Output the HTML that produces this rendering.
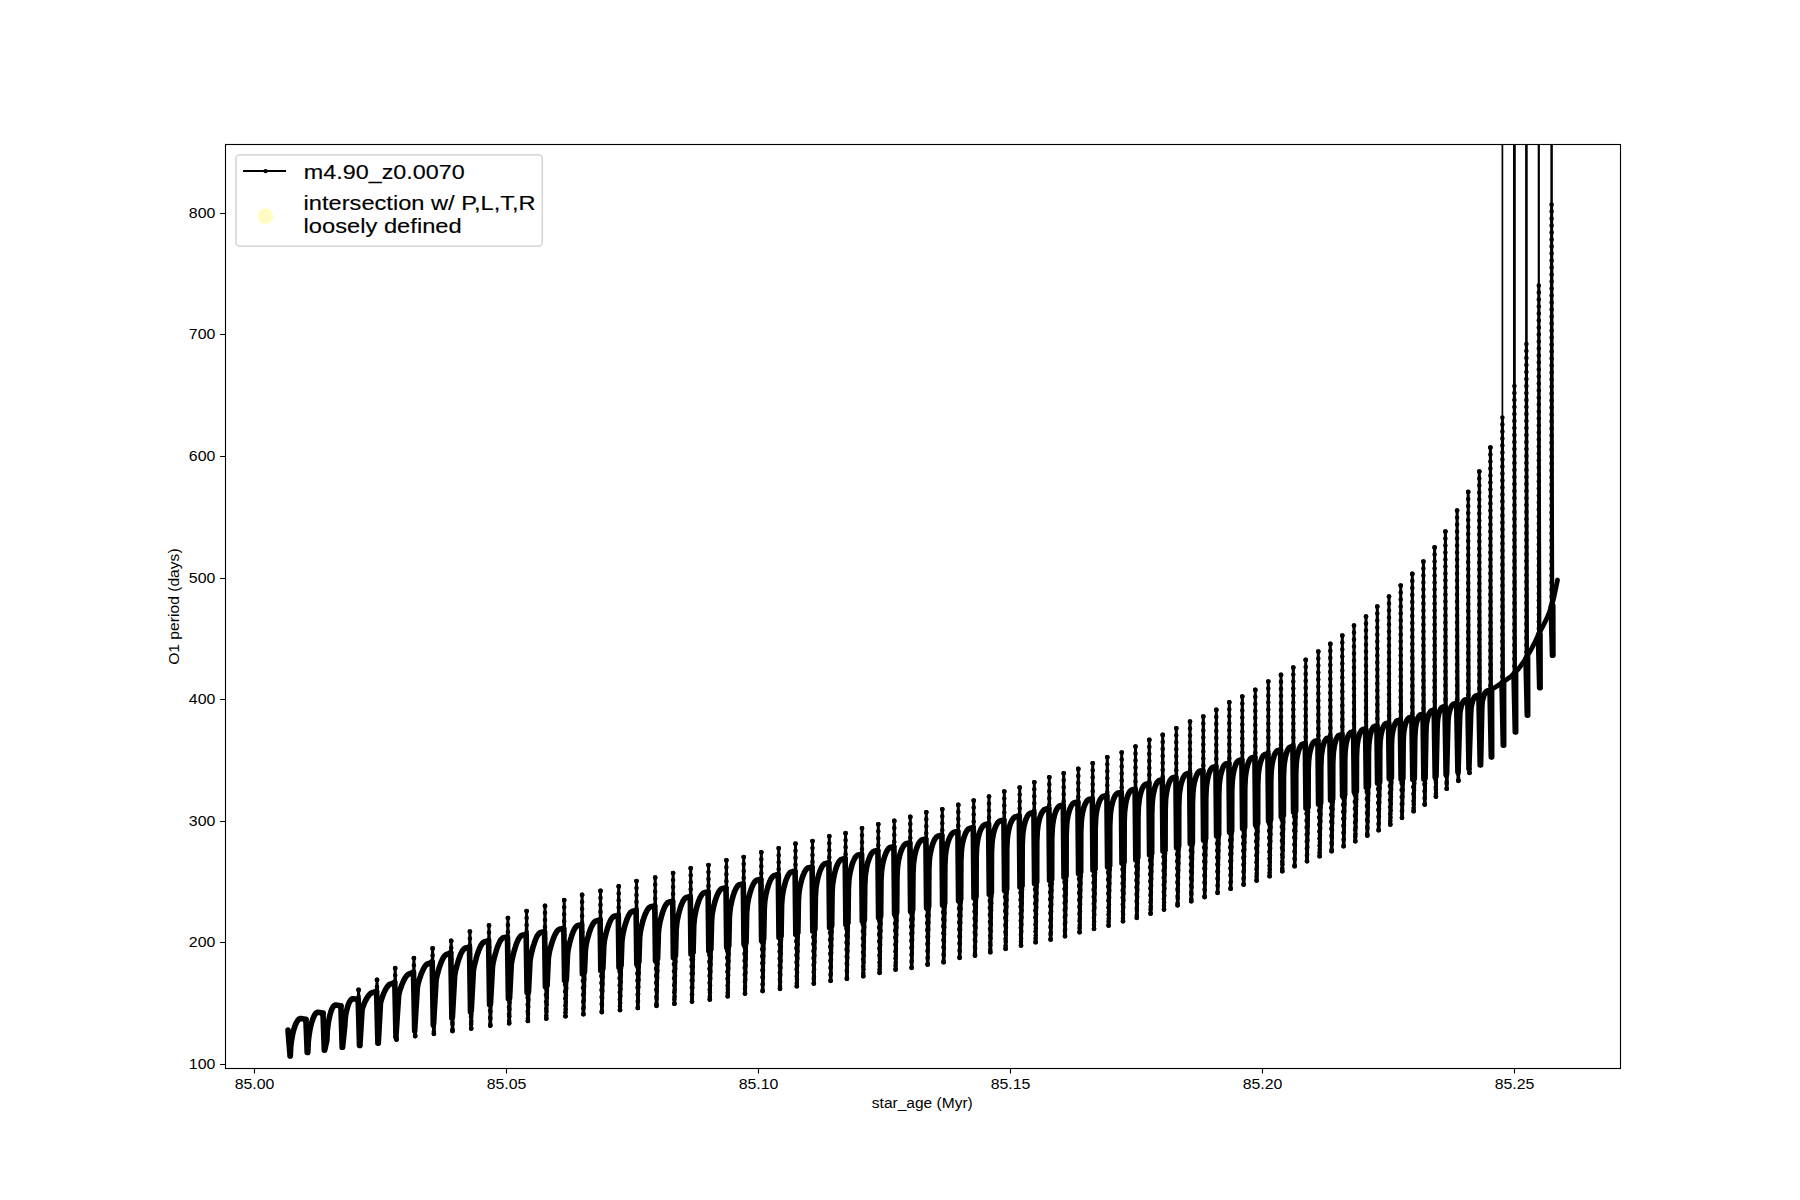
<!DOCTYPE html>
<html><head><meta charset="utf-8"><style>
html,body{margin:0;padding:0;background:#fff;width:1800px;height:1200px;overflow:hidden}
svg{display:block}
text{font-family:"Liberation Sans",sans-serif;fill:#000}
.tk{font-size:13.89px}
.lab{font-size:13.89px}
.lg{font-size:20.83px;stroke:#000;stroke-width:0.15px}
</style></head><body>
<svg width="1800" height="1200" viewBox="0 0 1800 1200">
<rect x="0" y="0" width="1800" height="1200" fill="#fff"/>
<defs><clipPath id="ax"><rect x="225" y="144" width="1396" height="925"/></clipPath></defs>
<g clip-path="url(#ax)" fill="none" stroke="#000" stroke-linejoin="round" stroke-linecap="round">
<path d="M288.0 1030.0 L290.1 1055.9 L289.3 1055.9 L290.3 1055.9 L290.3 1055.9 L290.8 1046.1 L291.3 1041.7 L291.9 1038.4 L292.4 1035.6 L292.9 1033.2 L293.4 1031.1 L293.9 1029.2 L294.5 1027.5 L295.0 1026.0 L295.5 1024.6 L296.0 1023.4 L296.5 1022.4 L297.1 1021.5 L297.6 1020.7 L298.1 1020.0 L298.6 1019.5 L299.1 1019.0 L299.7 1018.7 L300.2 1018.6 L300.7 1018.5 L304.3 1019.1 L305.7 1021.3 L306.0 1018.8 L306.3 1019.8 L307.6 1052.4 L306.8 1052.4 L307.8 1052.4 L307.8 1052.4 L308.3 1041.8 L308.8 1037.2 L309.3 1033.6 L309.8 1030.6 L310.3 1028.0 L310.8 1025.7 L311.3 1023.7 L311.9 1021.9 L312.4 1020.3 L312.9 1018.8 L313.4 1017.5 L313.9 1016.4 L314.4 1015.4 L314.9 1014.5 L315.4 1013.8 L315.9 1013.2 L316.4 1012.8 L316.9 1012.5 L317.4 1012.3 L317.9 1012.2 L321.4 1012.8 L322.8 1015.0 L323.1 1012.5 L323.4 1013.5 L324.7 1050.1 L323.9 1050.1 L326.9 1040.2 L326.9 1040.2 L327.3 1031.0 L327.8 1026.9 L328.2 1023.8 L328.6 1021.1 L329.1 1018.9 L329.5 1016.9 L329.9 1015.1 L330.4 1013.5 L330.8 1012.1 L331.2 1010.8 L331.7 1009.7 L332.1 1008.7 L332.5 1007.8 L333.0 1007.0 L333.4 1006.4 L333.8 1005.9 L334.3 1005.5 L334.7 1005.2 L335.1 1005.1 L335.6 1005.0 L339.3 1005.6 L340.7 1007.8 L341.0 1005.3 L341.3 1006.3 L342.6 1047.3 L341.8 1047.3 L344.8 1026.0 L344.8 1026.0 L345.2 1018.9 L345.6 1015.7 L346.0 1013.3 L346.5 1011.2 L346.9 1009.5 L347.3 1007.9 L347.7 1006.5 L348.1 1005.3 L348.5 1004.2 L348.9 1003.2 L349.3 1002.3 L349.8 1001.5 L350.2 1000.9 L350.6 1000.3 L351.0 999.8 L351.4 999.4 L351.8 999.1 L352.2 998.9 L352.7 998.7 L353.1 998.7 L356.6 999.3 L358.0 1001.5 L358.3 999.0 L358.6 989.9 L359.9 1045.5 L359.1 1045.5 L362.1 1009.6 L362.1 1009.6 L362.7 1007.6 L363.2 1006.1 L363.8 1004.6 L364.3 1003.3 L364.9 1002.0 L365.5 1000.8 L366.0 999.7 L366.6 998.7 L367.1 997.7 L367.7 996.8 L368.3 996.0 L368.8 995.3 L369.4 994.6 L370.0 994.1 L370.5 993.6 L371.1 993.2 L371.6 992.9 L372.2 992.6 L372.8 992.5 L373.3 992.5 L376.5 991.1 L376.7 991.1 L377.0 979.9 L378.3 1043.1 L377.5 1043.1 L380.5 1003.0 L380.5 1003.0 L381.1 1000.8 L381.6 999.0 L382.2 997.4 L382.7 995.9 L383.3 994.5 L383.8 993.2 L384.4 991.9 L384.9 990.8 L385.5 989.7 L386.0 988.7 L386.6 987.8 L387.1 987.0 L387.7 986.2 L388.2 985.6 L388.8 985.1 L389.3 984.6 L389.9 984.3 L390.5 984.0 L391.0 983.9 L391.6 983.8 L394.7 982.3 L394.9 982.3 L395.2 968.2 L396.5 1039.6 L395.9 1036.8 L398.7 995.0 L398.7 995.0 L399.3 992.5 L399.8 990.6 L400.4 988.8 L401.0 987.2 L401.6 985.6 L402.1 984.1 L402.7 982.8 L403.3 981.5 L403.9 980.3 L404.4 979.2 L405.0 978.2 L405.6 977.3 L406.1 976.5 L406.7 975.8 L407.3 975.2 L407.9 974.7 L408.4 974.3 L409.0 974.0 L409.6 973.8 L410.2 973.8 L413.4 972.0 L413.6 972.0 L413.9 958.2 L415.2 1036.1 L414.7 1030.0 L417.4 987.1 L417.4 987.1 L418.0 984.4 L418.5 982.2 L419.1 980.2 L419.7 978.4 L420.3 976.7 L420.8 975.1 L421.4 973.5 L422.0 972.1 L422.6 970.8 L423.1 969.6 L423.7 968.4 L424.3 967.4 L424.8 966.5 L425.4 965.8 L426.0 965.1 L426.6 964.5 L427.1 964.1 L427.7 963.8 L428.3 963.6 L428.9 963.6 L432.1 961.8 L432.3 961.8 L432.6 948.4 L433.9 1033.8 L433.6 1023.8 L436.1 980.2 L436.1 980.2 L436.7 977.2 L437.2 974.8 L437.8 972.7 L438.4 970.6 L438.9 968.7 L439.5 966.9 L440.1 965.2 L440.7 963.6 L441.2 962.2 L441.8 960.8 L442.4 959.6 L442.9 958.5 L443.5 957.5 L444.1 956.6 L444.6 955.9 L445.2 955.3 L445.8 954.8 L446.3 954.5 L446.9 954.3 L447.5 954.2 L450.7 952.6 L450.9 952.6 L451.2 940.9 L452.5 1031.0 L452.4 1017.2 L454.7 975.5 L454.7 975.5 L455.3 972.3 L455.8 969.8 L456.4 967.5 L457.0 965.3 L457.6 963.3 L458.1 961.4 L458.7 959.6 L459.3 957.9 L459.9 956.4 L460.4 954.9 L461.0 953.6 L461.6 952.4 L462.1 951.4 L462.7 950.5 L463.3 949.7 L463.9 949.0 L464.4 948.5 L465.0 948.2 L465.6 948.0 L466.2 947.9 L469.4 946.9 L469.6 946.9 L469.9 931.6 L471.2 1028.6 L471.3 1010.6 L473.4 970.5 L473.4 970.5 L474.0 967.2 L474.6 964.6 L475.2 962.1 L475.8 959.9 L476.3 957.8 L476.9 955.8 L477.5 953.9 L478.1 952.2 L478.7 950.5 L479.3 949.1 L479.9 947.7 L480.5 946.4 L481.1 945.3 L481.6 944.4 L482.2 943.6 L482.8 942.9 L483.4 942.4 L484.0 942.0 L484.6 941.8 L485.2 941.7 L488.5 940.6 L488.7 940.6 L489.0 925.5 L490.3 1025.6 L490.5 1003.9 L492.5 966.9 L492.5 966.9 L493.0 963.3 L493.6 960.6 L494.2 958.1 L494.8 955.9 L495.4 953.7 L496.0 951.7 L496.5 949.8 L497.1 948.1 L497.7 946.5 L498.3 945.0 L498.9 943.6 L499.5 942.4 L500.0 941.3 L500.6 940.3 L501.2 939.5 L501.8 938.8 L502.4 938.3 L503.0 937.9 L503.5 937.7 L504.1 937.6 L507.4 937.0 L507.6 937.0 L507.9 918.1 L509.2 1023.3 L509.6 997.9 L511.3 964.2 L511.3 964.2 L511.9 960.5 L512.5 957.7 L513.1 955.3 L513.6 953.0 L514.2 950.9 L514.8 948.9 L515.4 947.0 L515.9 945.3 L516.5 943.7 L517.1 942.2 L517.7 940.9 L518.2 939.7 L518.8 938.6 L519.4 937.7 L520.0 936.9 L520.6 936.2 L521.1 935.7 L521.7 935.3 L522.3 935.1 L522.9 935.0 L526.1 934.6 L526.3 934.6 L526.6 911.1 L527.9 1020.9 L528.5 991.7 L530.0 961.3 L530.0 961.3 L530.6 957.4 L531.1 954.6 L531.7 952.2 L532.3 949.9 L532.8 947.8 L533.4 945.9 L534.0 944.1 L534.5 942.4 L535.1 940.8 L535.7 939.3 L536.2 938.0 L536.8 936.8 L537.4 935.8 L537.9 934.9 L538.5 934.1 L539.1 933.4 L539.6 932.9 L540.2 932.6 L540.8 932.4 L541.3 932.3 L544.5 931.8 L544.7 931.8 L545.0 905.9 L546.3 1018.6 L547.1 985.4 L548.4 958.1 L548.4 958.1 L549.0 954.0 L549.6 951.2 L550.2 948.7 L550.8 946.5 L551.4 944.4 L552.0 942.5 L552.6 940.7 L553.2 939.0 L553.8 937.4 L554.4 936.0 L555.0 934.7 L555.6 933.5 L556.2 932.5 L556.8 931.6 L557.4 930.8 L558.0 930.2 L558.6 929.7 L559.2 929.4 L559.8 929.1 L560.4 929.1 L563.7 928.5 L563.9 928.5 L564.2 900.2 L565.5 1016.3 L566.4 978.8 L567.5 954.5 L567.5 954.5 L568.1 950.2 L568.6 947.3 L569.2 944.9 L569.7 942.6 L570.3 940.5 L570.8 938.6 L571.4 936.8 L571.9 935.1 L572.5 933.6 L573.0 932.2 L573.6 930.9 L574.1 929.8 L574.7 928.7 L575.2 927.8 L575.8 927.1 L576.3 926.5 L576.9 926.0 L577.4 925.6 L578.0 925.4 L578.5 925.4 L581.6 924.7 L581.8 924.7 L582.1 894.9 L583.4 1014.2 L584.5 971.8 L585.4 950.3 L585.4 950.3 L586.0 945.8 L586.5 942.9 L587.1 940.3 L587.7 938.1 L588.3 936.0 L588.8 934.0 L589.4 932.2 L590.0 930.6 L590.5 929.0 L591.1 927.6 L591.7 926.3 L592.3 925.2 L592.8 924.2 L593.4 923.3 L594.0 922.5 L594.5 921.9 L595.1 921.4 L595.7 921.1 L596.2 920.9 L596.8 920.8 L600.0 920.0 L600.2 920.0 L600.5 890.9 L601.8 1012.1 L602.9 968.5 L603.8 946.1 L603.8 946.1 L604.3 941.3 L604.9 938.3 L605.5 935.8 L606.0 933.4 L606.6 931.3 L607.2 929.3 L607.7 927.5 L608.3 925.9 L608.8 924.3 L609.4 922.9 L610.0 921.6 L610.5 920.5 L611.1 919.4 L611.7 918.5 L612.2 917.8 L612.8 917.2 L613.4 916.7 L613.9 916.3 L614.5 916.1 L615.1 916.1 L618.2 915.2 L618.4 915.2 L618.7 886.4 L620.0 1010.0 L621.1 965.2 L621.9 942.0 L621.9 942.0 L622.5 936.8 L623.0 933.8 L623.6 931.1 L624.1 928.8 L624.7 926.6 L625.2 924.7 L625.8 922.8 L626.3 921.1 L626.9 919.6 L627.4 918.2 L628.0 916.9 L628.5 915.7 L629.1 914.7 L629.6 913.8 L630.2 913.1 L630.7 912.4 L631.3 912.0 L631.8 911.6 L632.4 911.4 L632.9 911.3 L636.0 910.5 L636.2 910.5 L636.5 881.1 L637.8 1007.9 L638.9 962.0 L639.7 937.8 L639.7 937.8 L640.3 932.3 L640.9 929.2 L641.5 926.5 L642.1 924.1 L642.6 921.9 L643.2 919.9 L643.8 918.1 L644.4 916.4 L645.0 914.9 L645.6 913.4 L646.2 912.1 L646.8 911.0 L647.3 910.0 L647.9 909.1 L648.5 908.3 L649.1 907.7 L649.7 907.2 L650.3 906.9 L650.9 906.7 L651.5 906.6 L654.7 905.8 L654.9 905.8 L655.2 877.6 L656.5 1005.8 L657.6 958.7 L658.4 933.6 L658.4 933.6 L658.9 927.9 L659.5 924.7 L660.0 921.9 L660.6 919.5 L661.2 917.3 L661.7 915.3 L662.3 913.5 L662.8 911.8 L663.4 910.2 L663.9 908.8 L664.5 907.5 L665.1 906.3 L665.6 905.3 L666.2 904.4 L666.7 903.7 L667.3 903.1 L667.8 902.6 L668.4 902.3 L669.0 902.1 L669.5 902.0 L672.6 901.2 L672.8 901.2 L673.1 873.1 L674.4 1003.7 L675.5 955.5 L676.2 929.4 L676.2 929.4 L676.8 923.4 L677.3 920.1 L677.9 917.3 L678.4 914.9 L679.0 912.6 L679.5 910.6 L680.1 908.8 L680.6 907.1 L681.2 905.5 L681.7 904.1 L682.3 902.8 L682.8 901.6 L683.3 900.6 L683.9 899.7 L684.4 899.0 L685.0 898.4 L685.5 897.9 L686.1 897.6 L686.6 897.4 L687.2 897.3 L690.2 896.5 L690.4 896.5 L690.7 868.3 L692.0 1001.6 L693.1 952.2 L693.8 925.2 L693.8 925.2 L694.4 918.9 L694.9 915.5 L695.5 912.6 L696.0 910.2 L696.6 907.9 L697.1 905.9 L697.7 904.0 L698.3 902.3 L698.8 900.8 L699.4 899.3 L699.9 898.1 L700.5 896.9 L701.0 895.9 L701.6 895.0 L702.2 894.3 L702.7 893.7 L703.3 893.2 L703.8 892.9 L704.4 892.7 L704.9 892.6 L708.0 891.8 L708.2 891.8 L708.5 865.1 L709.8 999.5 L710.9 949.2 L711.6 921.4 L711.6 921.4 L712.1 914.8 L712.7 911.3 L713.3 908.5 L713.8 906.0 L714.4 903.7 L714.9 901.7 L715.5 899.8 L716.1 898.1 L716.6 896.6 L717.2 895.2 L717.8 893.9 L718.3 892.8 L718.9 891.8 L719.4 890.9 L720.0 890.2 L720.6 889.6 L721.1 889.1 L721.7 888.8 L722.3 888.6 L722.8 888.5 L725.9 887.8 L726.1 887.8 L726.4 860.3 L727.7 996.3 L728.8 945.7 L729.4 917.3 L729.4 917.3 L730.0 910.5 L730.5 907.0 L731.1 904.2 L731.6 901.7 L732.1 899.4 L732.7 897.4 L733.2 895.6 L733.8 893.9 L734.3 892.4 L734.8 891.0 L735.4 889.8 L735.9 888.7 L736.5 887.7 L737.0 886.8 L737.5 886.1 L738.1 885.5 L738.6 885.1 L739.2 884.7 L739.7 884.5 L740.2 884.5 L743.2 883.8 L743.4 883.8 L743.7 857.1 L745.0 993.6 L746.1 942.1 L746.7 912.9 L746.7 912.9 L747.3 905.9 L747.8 902.4 L748.4 899.5 L748.9 897.0 L749.5 894.8 L750.0 892.8 L750.6 890.9 L751.1 889.3 L751.7 887.8 L752.2 886.4 L752.8 885.2 L753.3 884.1 L753.9 883.1 L754.5 882.3 L755.0 881.6 L755.6 881.0 L756.1 880.6 L756.7 880.2 L757.2 880.1 L757.8 880.0 L760.8 879.2 L761.0 879.2 L761.3 852.3 L762.6 991.0 L763.7 938.6 L764.3 908.5 L764.3 908.5 L764.8 901.2 L765.4 897.6 L765.9 894.7 L766.5 892.2 L767.0 890.0 L767.6 887.9 L768.1 886.1 L768.6 884.5 L769.2 883.0 L769.7 881.6 L770.3 880.4 L770.8 879.3 L771.4 878.4 L771.9 877.6 L772.5 876.9 L773.0 876.3 L773.6 875.9 L774.1 875.6 L774.7 875.4 L775.2 875.3 L778.2 874.5 L778.4 874.5 L778.7 848.3 L780.0 988.8 L781.1 935.9 L781.6 905.2 L781.6 905.2 L782.2 897.6 L782.7 893.9 L783.2 891.0 L783.7 888.5 L784.3 886.3 L784.8 884.3 L785.3 882.5 L785.8 880.8 L786.4 879.3 L786.9 878.0 L787.4 876.8 L787.9 875.7 L788.5 874.8 L789.0 874.0 L789.5 873.3 L790.0 872.7 L790.6 872.3 L791.1 872.0 L791.6 871.8 L792.1 871.8 L795.0 871.2 L795.2 871.2 L795.5 843.7 L796.8 986.2 L797.9 932.5 L798.4 901.1 L798.4 901.1 L798.9 893.3 L799.5 889.6 L800.0 886.6 L800.5 884.1 L801.1 881.9 L801.6 879.9 L802.1 878.2 L802.7 876.5 L803.2 875.1 L803.8 873.8 L804.3 872.6 L804.8 871.6 L805.4 870.6 L805.9 869.9 L806.4 869.2 L807.0 868.7 L807.5 868.2 L808.0 867.9 L808.6 867.7 L809.1 867.7 L812.0 867.0 L812.2 867.0 L812.5 841.1 L813.8 983.5 L814.9 929.2 L815.4 896.9 L815.4 896.9 L815.9 888.9 L816.4 885.1 L817.0 882.2 L817.5 879.7 L818.0 877.5 L818.5 875.5 L819.1 873.7 L819.6 872.2 L820.1 870.7 L820.7 869.4 L821.2 868.3 L821.7 867.2 L822.2 866.3 L822.8 865.6 L823.3 864.9 L823.8 864.4 L824.4 864.0 L824.9 863.7 L825.4 863.5 L825.9 863.5 L828.8 862.7 L829.0 862.7 L829.3 836.3 L830.6 980.8 L831.7 925.8 L832.1 892.7 L832.1 892.7 L832.6 884.5 L833.2 880.7 L833.7 877.7 L834.2 875.2 L834.7 873.0 L835.2 871.1 L835.7 869.3 L836.2 867.7 L836.7 866.3 L837.2 865.1 L837.7 863.9 L838.3 862.9 L838.8 862.0 L839.3 861.3 L839.8 860.7 L840.3 860.1 L840.8 859.7 L841.3 859.4 L841.8 859.3 L842.3 859.2 L845.1 858.5 L845.3 858.5 L845.6 833.2 L846.9 978.7 L848.0 922.7 L848.4 888.7 L848.4 888.7 L848.9 880.1 L849.4 876.3 L849.9 873.3 L850.5 870.8 L851.0 868.6 L851.5 866.6 L852.0 864.9 L852.5 863.3 L853.0 861.9 L853.6 860.7 L854.1 859.6 L854.6 858.6 L855.1 857.7 L855.6 857.0 L856.1 856.3 L856.7 855.8 L857.2 855.4 L857.7 855.2 L858.2 855.0 L858.7 854.9 L861.5 854.2 L861.7 854.2 L862.0 828.3 L863.3 976.2 L864.4 919.6 L864.8 884.9 L864.8 884.9 L865.3 876.1 L865.8 872.2 L866.3 869.2 L866.8 866.7 L867.3 864.5 L867.8 862.5 L868.4 860.8 L868.9 859.3 L869.4 857.9 L869.9 856.7 L870.4 855.6 L870.9 854.6 L871.4 853.8 L872.0 853.0 L872.5 852.4 L873.0 851.9 L873.5 851.5 L874.0 851.3 L874.5 851.1 L875.0 851.0 L877.8 850.4 L878.0 850.4 L878.3 824.3 L879.6 972.8 L880.7 916.0 L881.0 880.8 L881.0 880.8 L881.5 871.9 L882.0 868.0 L882.5 865.0 L883.0 862.5 L883.5 860.3 L884.1 858.4 L884.6 856.7 L885.1 855.2 L885.6 853.9 L886.1 852.7 L886.6 851.6 L887.1 850.7 L887.6 849.9 L888.1 849.2 L888.6 848.6 L889.1 848.1 L889.6 847.7 L890.1 847.5 L890.6 847.3 L891.1 847.2 L893.8 846.6 L894.0 846.6 L894.3 820.9 L895.6 969.5 L896.7 912.5 L897.0 876.8 L897.0 876.8 L897.5 867.7 L898.0 863.8 L898.5 860.8 L899.0 858.3 L899.5 856.2 L900.0 854.3 L900.5 852.7 L901.0 851.2 L901.5 849.9 L902.0 848.7 L902.6 847.7 L903.1 846.8 L903.6 846.0 L904.1 845.3 L904.6 844.7 L905.1 844.3 L905.6 843.9 L906.1 843.6 L906.6 843.5 L907.1 843.4 L909.8 842.8 L910.0 842.8 L910.3 816.9 L911.6 967.8 L912.7 909.8 L913.0 873.1 L913.0 873.1 L913.5 863.8 L914.0 859.8 L914.5 856.8 L915.0 854.3 L915.5 852.2 L916.0 850.3 L916.5 848.7 L917.0 847.3 L917.5 846.0 L918.0 844.8 L918.5 843.8 L919.0 842.9 L919.6 842.1 L920.1 841.4 L920.6 840.9 L921.1 840.4 L921.6 840.1 L922.1 839.8 L922.6 839.7 L923.1 839.6 L925.8 839.0 L926.0 839.0 L926.3 812.3 L927.6 964.5 L928.7 906.3 L928.9 869.1 L928.9 869.1 L929.4 859.6 L929.9 855.6 L930.5 852.6 L931.0 850.2 L931.5 848.1 L932.0 846.2 L932.5 844.6 L933.0 843.2 L933.5 842.0 L934.0 840.8 L934.5 839.8 L935.0 839.0 L935.5 838.2 L936.0 837.6 L936.6 837.0 L937.1 836.6 L937.6 836.3 L938.1 836.0 L938.6 835.9 L939.1 835.8 L941.8 835.2 L942.0 835.2 L942.3 809.3 L943.6 962.2 L944.7 903.3 L944.9 865.3 L944.9 865.3 L945.4 855.6 L945.9 851.6 L946.4 848.6 L946.9 846.1 L947.4 844.0 L948.0 842.2 L948.5 840.6 L949.0 839.2 L949.5 838.0 L950.0 836.9 L950.5 835.9 L951.0 835.1 L951.5 834.4 L952.0 833.7 L952.5 833.2 L953.1 832.8 L953.6 832.5 L954.1 832.2 L954.6 832.1 L955.1 832.0 L957.8 831.4 L958.0 831.4 L958.3 804.9 L959.6 957.8 L960.7 899.2 L960.9 860.9 L960.9 860.9 L961.4 851.2 L961.8 847.2 L962.3 844.2 L962.8 841.8 L963.3 839.8 L963.8 838.0 L964.3 836.5 L964.8 835.1 L965.3 833.9 L965.7 832.9 L966.2 832.0 L966.7 831.1 L967.2 830.4 L967.7 829.8 L968.2 829.3 L968.7 828.9 L969.2 828.6 L969.6 828.4 L970.1 828.3 L970.6 828.2 L973.2 827.6 L973.4 827.6 L973.7 800.6 L975.0 955.5 L976.1 896.2 L976.2 857.1 L976.2 857.1 L976.7 847.1 L977.2 843.1 L977.7 840.2 L978.2 837.8 L978.7 835.7 L979.1 834.0 L979.6 832.5 L980.1 831.2 L980.6 830.0 L981.1 828.9 L981.6 828.0 L982.1 827.3 L982.5 826.6 L983.0 826.0 L983.5 825.5 L984.0 825.1 L984.5 824.8 L985.0 824.6 L985.5 824.5 L985.9 824.4 L988.5 823.8 L988.7 823.8 L989.0 796.6 L990.3 952.2 L991.4 892.7 L991.5 853.0 L991.5 853.0 L992.0 842.9 L992.5 838.9 L993.0 836.0 L993.4 833.6 L993.9 831.6 L994.4 829.9 L994.9 828.4 L995.4 827.1 L995.9 826.0 L996.4 825.0 L996.9 824.1 L997.3 823.3 L997.8 822.7 L998.3 822.1 L998.8 821.7 L999.3 821.3 L999.8 821.0 L1000.3 820.8 L1000.8 820.7 L1001.2 820.6 L1003.8 820.0 L1004.0 820.0 L1004.3 791.6 L1005.6 948.8 L1006.7 888.9 L1006.8 849.0 L1006.8 849.0 L1007.3 838.9 L1007.8 834.9 L1008.3 831.9 L1008.8 829.5 L1009.3 827.5 L1009.7 825.8 L1010.2 824.3 L1010.7 823.0 L1011.2 821.9 L1011.7 820.9 L1012.2 820.0 L1012.7 819.2 L1013.2 818.6 L1013.7 818.0 L1014.2 817.5 L1014.7 817.2 L1015.1 816.9 L1015.6 816.7 L1016.1 816.5 L1016.6 816.5 L1019.2 815.8 L1019.4 815.8 L1019.7 787.6 L1021.0 945.5 L1022.1 885.6 L1022.2 845.8 L1022.2 845.8 L1022.7 835.5 L1023.1 831.5 L1023.6 828.5 L1024.0 826.1 L1024.5 824.1 L1025.0 822.4 L1025.4 820.9 L1025.9 819.6 L1026.3 818.4 L1026.8 817.4 L1027.2 816.5 L1027.7 815.8 L1028.2 815.1 L1028.6 814.6 L1029.1 814.1 L1029.5 813.7 L1030.0 813.4 L1030.5 813.2 L1030.9 813.1 L1031.4 813.0 L1033.8 812.5 L1034.0 812.5 L1034.3 782.3 L1035.6 942.2 L1036.7 881.9 L1036.8 841.8 L1036.8 841.8 L1037.3 831.5 L1037.8 827.5 L1038.2 824.5 L1038.7 822.1 L1039.2 820.1 L1039.6 818.4 L1040.1 816.9 L1040.6 815.6 L1041.1 814.4 L1041.5 813.4 L1042.0 812.5 L1042.5 811.7 L1043.0 811.1 L1043.5 810.5 L1043.9 810.0 L1044.4 809.7 L1044.9 809.4 L1045.3 809.2 L1045.8 809.0 L1046.3 809.0 L1048.8 808.3 L1049.0 808.3 L1049.3 777.3 L1050.6 939.5 L1051.7 879.0 L1051.8 838.7 L1051.8 838.7 L1052.3 828.4 L1052.7 824.3 L1053.2 821.3 L1053.6 818.9 L1054.1 816.8 L1054.5 815.1 L1055.0 813.6 L1055.4 812.3 L1055.9 811.1 L1056.3 810.1 L1056.8 809.2 L1057.2 808.4 L1057.7 807.7 L1058.1 807.2 L1058.6 806.7 L1059.0 806.3 L1059.5 806.0 L1059.9 805.8 L1060.4 805.7 L1060.8 805.6 L1063.2 805.1 L1063.4 805.1 L1063.7 773.3 L1065.0 936.2 L1066.1 875.8 L1066.2 835.5 L1066.2 835.5 L1066.7 825.2 L1067.1 821.1 L1067.6 818.1 L1068.0 815.7 L1068.5 813.6 L1069.0 811.9 L1069.4 810.4 L1069.9 809.1 L1070.3 807.9 L1070.8 806.9 L1071.2 806.0 L1071.7 805.2 L1072.2 804.6 L1072.6 804.0 L1073.1 803.5 L1073.5 803.1 L1074.0 802.8 L1074.5 802.6 L1074.9 802.5 L1075.4 802.5 L1077.8 801.9 L1078.0 801.9 L1078.3 768.9 L1079.6 932.2 L1080.7 872.1 L1080.8 832.1 L1080.8 832.1 L1081.3 821.9 L1081.7 817.8 L1082.2 814.8 L1082.6 812.4 L1083.1 810.4 L1083.5 808.7 L1084.0 807.2 L1084.4 805.8 L1084.9 804.7 L1085.3 803.7 L1085.8 802.8 L1086.2 802.0 L1086.7 801.4 L1087.1 800.8 L1087.6 800.3 L1088.0 799.9 L1088.5 799.6 L1088.9 799.4 L1089.4 799.3 L1089.8 799.3 L1092.2 798.8 L1092.4 798.8 L1092.7 763.3 L1094.0 928.8 L1095.1 868.8 L1095.2 828.9 L1095.2 828.9 L1095.7 818.6 L1096.1 814.6 L1096.6 811.6 L1097.0 809.2 L1097.5 807.2 L1098.0 805.5 L1098.4 804.0 L1098.9 802.7 L1099.3 801.5 L1099.8 800.5 L1100.2 799.6 L1100.7 798.8 L1101.2 798.2 L1101.6 797.6 L1102.1 797.1 L1102.5 796.8 L1103.0 796.5 L1103.5 796.3 L1103.9 796.1 L1104.4 796.1 L1106.8 795.6 L1107.0 795.6 L1107.3 757.3 L1108.6 925.5 L1109.7 865.6 L1109.8 825.7 L1109.8 825.7 L1110.3 815.4 L1110.7 811.4 L1111.2 808.4 L1111.6 806.0 L1112.1 804.0 L1112.5 802.3 L1113.0 800.8 L1113.4 799.5 L1113.9 798.3 L1114.3 797.3 L1114.8 796.4 L1115.2 795.6 L1115.7 795.0 L1116.1 794.4 L1116.6 793.9 L1117.0 793.6 L1117.5 793.3 L1117.9 793.1 L1118.4 793.0 L1118.8 792.9 L1121.2 792.4 L1121.4 792.4 L1121.7 752.6 L1123.0 921.2 L1124.1 861.8 L1124.2 822.2 L1124.2 822.2 L1124.6 812.1 L1125.1 808.0 L1125.5 805.1 L1125.9 802.7 L1126.3 800.7 L1126.8 799.0 L1127.2 797.5 L1127.6 796.2 L1128.0 795.1 L1128.5 794.1 L1128.9 793.2 L1129.3 792.4 L1129.8 791.8 L1130.2 791.2 L1130.6 790.8 L1131.0 790.4 L1131.5 790.1 L1131.9 789.9 L1132.3 789.8 L1132.7 789.7 L1135.0 789.2 L1135.2 789.2 L1135.5 746.6 L1136.8 917.8 L1137.9 857.2 L1138.0 816.9 L1138.0 816.9 L1138.4 806.6 L1138.9 802.6 L1139.3 799.6 L1139.7 797.2 L1140.1 795.2 L1140.6 793.5 L1141.0 792.0 L1141.4 790.7 L1141.8 789.6 L1142.3 788.6 L1142.7 787.7 L1143.1 786.9 L1143.6 786.2 L1144.0 785.7 L1144.4 785.2 L1144.8 784.8 L1145.3 784.6 L1145.7 784.3 L1146.1 784.2 L1146.5 784.2 L1148.8 783.2 L1149.0 783.2 L1149.3 739.9 L1150.6 913.6 L1151.7 853.4 L1151.8 813.3 L1151.8 813.3 L1152.2 803.0 L1152.6 798.9 L1153.0 795.9 L1153.4 793.5 L1153.9 791.5 L1154.3 789.8 L1154.7 788.3 L1155.1 786.9 L1155.5 785.8 L1155.9 784.8 L1156.3 783.9 L1156.7 783.1 L1157.1 782.4 L1157.6 781.9 L1158.0 781.4 L1158.4 781.0 L1158.8 780.7 L1159.2 780.5 L1159.6 780.4 L1160.0 780.4 L1162.2 779.8 L1162.4 779.8 L1162.7 734.9 L1164.0 909.5 L1165.1 850.0 L1165.2 810.3 L1165.2 810.3 L1165.6 800.1 L1166.0 796.0 L1166.5 793.1 L1166.9 790.7 L1167.3 788.7 L1167.7 787.0 L1168.1 785.5 L1168.6 784.2 L1169.0 783.0 L1169.4 782.0 L1169.8 781.1 L1170.2 780.3 L1170.6 779.7 L1171.1 779.1 L1171.5 778.7 L1171.9 778.3 L1172.3 778.0 L1172.7 777.8 L1173.2 777.7 L1173.6 777.6 L1175.8 777.2 L1176.0 777.2 L1176.3 728.3 L1177.6 905.3 L1178.7 845.9 L1178.8 806.2 L1178.8 806.2 L1179.2 796.1 L1179.6 792.1 L1180.1 789.2 L1180.5 786.8 L1180.9 784.8 L1181.3 783.1 L1181.8 781.6 L1182.2 780.3 L1182.6 779.2 L1183.0 778.2 L1183.5 777.3 L1183.9 776.6 L1184.3 775.9 L1184.7 775.3 L1185.1 774.9 L1185.6 774.5 L1186.0 774.2 L1186.4 774.0 L1186.8 773.9 L1187.3 773.9 L1189.5 773.2 L1189.7 773.2 L1190.0 721.6 L1191.3 901.2 L1192.4 842.4 L1192.5 803.2 L1192.5 803.2 L1192.9 793.1 L1193.3 789.1 L1193.7 786.2 L1194.1 783.8 L1194.5 781.8 L1194.9 780.2 L1195.3 778.7 L1195.8 777.4 L1196.2 776.3 L1196.6 775.3 L1197.0 774.4 L1197.4 773.6 L1197.8 773.0 L1198.2 772.4 L1198.6 772.0 L1199.0 771.6 L1199.4 771.3 L1199.8 771.1 L1200.2 771.0 L1200.6 770.9 L1202.8 770.5 L1203.0 770.5 L1203.3 716.6 L1204.6 897.0 L1205.7 838.3 L1205.8 799.1 L1205.8 799.1 L1206.2 789.1 L1206.6 785.2 L1207.0 782.3 L1207.4 779.9 L1207.8 778.0 L1208.2 776.3 L1208.6 774.8 L1209.0 773.5 L1209.4 772.4 L1209.8 771.4 L1210.1 770.6 L1210.5 769.8 L1210.9 769.2 L1211.3 768.6 L1211.7 768.2 L1212.1 767.8 L1212.5 767.5 L1212.9 767.3 L1213.3 767.2 L1213.7 767.1 L1215.8 766.5 L1216.0 766.5 L1216.3 709.9 L1217.6 892.8 L1218.7 834.5 L1218.8 795.6 L1218.8 795.6 L1219.2 785.7 L1219.6 781.7 L1220.0 778.8 L1220.4 776.5 L1220.8 774.5 L1221.2 772.8 L1221.6 771.4 L1222.0 770.1 L1222.4 769.0 L1222.8 768.0 L1223.1 767.1 L1223.5 766.4 L1223.9 765.7 L1224.3 765.2 L1224.7 764.7 L1225.1 764.4 L1225.5 764.1 L1225.9 763.9 L1226.3 763.8 L1226.7 763.7 L1228.8 763.2 L1229.0 763.2 L1229.3 702.3 L1230.6 888.7 L1231.7 830.7 L1231.8 792.0 L1231.8 792.0 L1232.2 782.1 L1232.6 778.2 L1233.0 775.3 L1233.4 773.0 L1233.8 771.1 L1234.2 769.4 L1234.6 768.0 L1235.0 766.7 L1235.4 765.6 L1235.8 764.6 L1236.1 763.7 L1236.5 763.0 L1236.9 762.4 L1237.3 761.8 L1237.7 761.4 L1238.1 761.0 L1238.5 760.7 L1238.9 760.5 L1239.3 760.4 L1239.7 760.3 L1241.8 759.8 L1242.0 759.8 L1242.3 696.6 L1243.6 884.5 L1244.7 827.2 L1244.8 789.0 L1244.8 789.0 L1245.2 779.2 L1245.6 775.3 L1246.0 772.5 L1246.4 770.2 L1246.8 768.3 L1247.2 766.6 L1247.6 765.2 L1248.0 763.9 L1248.4 762.8 L1248.8 761.8 L1249.1 761.0 L1249.5 760.2 L1249.9 759.6 L1250.3 759.1 L1250.7 758.6 L1251.1 758.3 L1251.5 758.0 L1251.9 757.8 L1252.3 757.7 L1252.7 757.6 L1254.8 757.2 L1255.0 757.2 L1255.3 689.9 L1256.6 880.4 L1257.7 823.4 L1257.8 785.4 L1257.8 785.4 L1258.2 775.7 L1258.6 771.9 L1259.0 769.1 L1259.4 766.8 L1259.8 764.9 L1260.2 763.2 L1260.6 761.8 L1261.0 760.6 L1261.4 759.5 L1261.8 758.5 L1262.1 757.7 L1262.5 756.9 L1262.9 756.3 L1263.3 755.8 L1263.7 755.3 L1264.1 755.0 L1264.5 754.7 L1264.9 754.5 L1265.3 754.4 L1265.7 754.3 L1267.8 753.8 L1268.0 753.8 L1268.3 681.6 L1269.6 876.2 L1270.7 819.3 L1270.8 781.4 L1270.8 781.4 L1271.2 771.7 L1271.6 767.9 L1271.9 765.1 L1272.3 762.8 L1272.7 760.9 L1273.1 759.3 L1273.5 757.9 L1273.9 756.6 L1274.2 755.5 L1274.6 754.6 L1275.0 753.8 L1275.4 753.0 L1275.8 752.4 L1276.2 751.9 L1276.5 751.4 L1276.9 751.1 L1277.3 750.8 L1277.7 750.6 L1278.1 750.5 L1278.5 750.4 L1280.5 749.8 L1280.7 749.8 L1281.0 674.9 L1282.3 871.2 L1283.4 815.1 L1283.5 777.7 L1283.5 777.7 L1283.9 768.1 L1284.2 764.3 L1284.6 761.5 L1285.0 759.3 L1285.3 757.4 L1285.7 755.8 L1286.1 754.4 L1286.4 753.2 L1286.8 752.1 L1287.2 751.1 L1287.5 750.3 L1287.9 749.6 L1288.3 749.0 L1288.6 748.4 L1289.0 748.0 L1289.4 747.6 L1289.7 747.4 L1290.1 747.2 L1290.5 747.1 L1290.8 747.0 L1292.8 746.5 L1293.0 746.5 L1293.3 667.6 L1294.6 866.2 L1295.7 811.0 L1295.8 774.2 L1295.8 774.2 L1296.2 764.8 L1296.5 761.1 L1296.9 758.3 L1297.3 756.1 L1297.7 754.3 L1298.0 752.7 L1298.4 751.3 L1298.8 750.1 L1299.1 749.0 L1299.5 748.1 L1299.9 747.3 L1300.3 746.6 L1300.6 745.9 L1301.0 745.4 L1301.4 745.0 L1301.7 744.6 L1302.1 744.4 L1302.5 744.2 L1302.8 744.1 L1303.2 744.0 L1305.2 743.6 L1305.4 743.6 L1305.7 659.9 L1307.0 861.2 L1308.1 806.9 L1308.2 770.8 L1308.2 770.8 L1308.6 761.5 L1309.0 757.8 L1309.3 755.1 L1309.7 753.0 L1310.1 751.1 L1310.5 749.6 L1310.9 748.2 L1311.2 747.0 L1311.6 746.0 L1312.0 745.1 L1312.4 744.3 L1312.7 743.6 L1313.1 743.0 L1313.5 742.5 L1313.9 742.0 L1314.3 741.7 L1314.6 741.4 L1315.0 741.2 L1315.4 741.1 L1315.8 741.1 L1317.8 740.6 L1318.0 740.6 L1318.3 651.6 L1319.6 856.2 L1320.7 802.9 L1320.8 767.3 L1320.8 767.3 L1321.2 758.2 L1321.5 754.6 L1321.9 752.0 L1322.2 749.8 L1322.6 748.0 L1322.9 746.5 L1323.3 745.2 L1323.6 744.0 L1324.0 743.0 L1324.3 742.1 L1324.7 741.3 L1325.1 740.6 L1325.4 740.0 L1325.8 739.5 L1326.1 739.1 L1326.5 738.7 L1326.8 738.5 L1327.2 738.3 L1327.5 738.2 L1327.9 738.2 L1329.8 737.7 L1330.0 737.7 L1330.3 643.9 L1331.6 851.2 L1332.7 798.8 L1332.8 763.9 L1332.8 763.9 L1333.2 754.9 L1333.5 751.4 L1333.9 748.8 L1334.2 746.7 L1334.6 744.9 L1334.9 743.4 L1335.3 742.1 L1335.6 740.9 L1336.0 739.9 L1336.3 739.1 L1336.7 738.3 L1337.1 737.6 L1337.4 737.0 L1337.8 736.5 L1338.1 736.1 L1338.5 735.8 L1338.8 735.5 L1339.2 735.4 L1339.5 735.3 L1339.9 735.2 L1341.8 734.8 L1342.0 734.8 L1342.3 635.6 L1343.6 846.2 L1344.7 794.7 L1344.8 760.4 L1344.8 760.4 L1345.1 751.6 L1345.5 748.2 L1345.8 745.6 L1346.2 743.5 L1346.5 741.8 L1346.9 740.3 L1347.2 739.0 L1347.5 737.9 L1347.9 736.9 L1348.2 736.0 L1348.6 735.3 L1348.9 734.6 L1349.3 734.1 L1349.6 733.6 L1349.9 733.2 L1350.3 732.8 L1350.6 732.6 L1351.0 732.4 L1351.3 732.3 L1351.7 732.3 L1353.5 731.8 L1353.7 731.8 L1354.0 625.6 L1355.3 841.2 L1356.4 790.7 L1356.5 757.0 L1356.5 757.0 L1356.9 748.3 L1357.2 744.9 L1357.6 742.4 L1357.9 740.4 L1358.3 738.7 L1358.6 737.2 L1359.0 736.0 L1359.3 734.9 L1359.7 733.9 L1360.0 733.0 L1360.4 732.3 L1360.8 731.7 L1361.1 731.1 L1361.5 730.6 L1361.8 730.2 L1362.2 729.9 L1362.5 729.7 L1362.9 729.5 L1363.2 729.4 L1363.6 729.3 L1365.5 728.9 L1365.7 728.9 L1366.0 616.6 L1367.3 835.5 L1368.4 786.2 L1368.5 753.3 L1368.5 753.3 L1368.8 744.9 L1369.2 741.6 L1369.5 739.1 L1369.8 737.2 L1370.1 735.5 L1370.5 734.1 L1370.8 732.9 L1371.1 731.8 L1371.4 730.8 L1371.8 730.0 L1372.1 729.3 L1372.4 728.7 L1372.8 728.1 L1373.1 727.6 L1373.4 727.3 L1373.7 726.9 L1374.1 726.7 L1374.4 726.5 L1374.7 726.4 L1375.0 726.4 L1376.8 725.9 L1377.0 725.9 L1377.3 606.6 L1378.6 830.2 L1379.7 782.0 L1379.8 749.8 L1379.8 749.8 L1380.1 741.6 L1380.5 738.3 L1380.8 735.9 L1381.2 734.0 L1381.5 732.4 L1381.9 731.0 L1382.2 729.8 L1382.5 728.7 L1382.9 727.8 L1383.2 727.0 L1383.6 726.3 L1383.9 725.7 L1384.3 725.1 L1384.6 724.7 L1384.9 724.3 L1385.3 724.0 L1385.6 723.8 L1386.0 723.6 L1386.3 723.5 L1386.7 723.5 L1388.5 723.0 L1388.7 723.0 L1389.0 596.6 L1390.3 824.5 L1391.4 777.5 L1391.5 746.2 L1391.5 746.2 L1391.8 738.2 L1392.2 735.0 L1392.5 732.7 L1392.9 730.8 L1393.2 729.2 L1393.6 727.9 L1393.9 726.7 L1394.2 725.7 L1394.6 724.8 L1394.9 724.0 L1395.3 723.3 L1395.6 722.7 L1396.0 722.2 L1396.3 721.7 L1396.6 721.3 L1397.0 721.1 L1397.3 720.8 L1397.7 720.7 L1398.0 720.6 L1398.4 720.5 L1400.2 720.1 L1400.4 720.1 L1400.7 585.6 L1402.0 817.8 L1402.9 778.2 L1403.2 742.3 L1403.2 742.3 L1403.5 734.6 L1403.9 731.5 L1404.2 729.3 L1404.6 727.5 L1404.9 726.0 L1405.2 724.7 L1405.6 723.5 L1405.9 722.5 L1406.3 721.7 L1406.6 720.9 L1407.0 720.2 L1407.3 719.7 L1407.6 719.2 L1408.0 718.7 L1408.3 718.4 L1408.7 718.1 L1409.0 717.9 L1409.3 717.7 L1409.7 717.6 L1410.0 717.6 L1411.8 717.1 L1412.0 717.1 L1412.3 573.9 L1413.6 811.2 L1414.3 778.5 L1414.8 738.5 L1414.8 738.5 L1415.2 731.0 L1415.5 728.1 L1415.8 725.9 L1416.1 724.2 L1416.4 722.7 L1416.8 721.5 L1417.1 720.4 L1417.4 719.4 L1417.7 718.6 L1418.0 717.8 L1418.3 717.2 L1418.7 716.6 L1419.0 716.2 L1419.3 715.8 L1419.6 715.4 L1419.9 715.1 L1420.2 714.9 L1420.6 714.8 L1420.9 714.7 L1421.2 714.7 L1422.9 714.2 L1423.1 714.2 L1423.4 561.6 L1424.7 804.5 L1425.1 777.9 L1425.9 733.6 L1425.9 733.6 L1426.2 726.5 L1426.5 723.6 L1426.9 721.5 L1427.2 719.8 L1427.5 718.4 L1427.8 717.2 L1428.2 716.2 L1428.5 715.2 L1428.8 714.4 L1429.1 713.7 L1429.5 713.1 L1429.8 712.6 L1430.1 712.1 L1430.4 711.7 L1430.7 711.4 L1431.1 711.1 L1431.4 710.9 L1431.7 710.8 L1432.0 710.7 L1432.4 710.7 L1434.1 710.0 L1434.3 710.0 L1434.6 547.5 L1435.9 796.6 L1436.0 776.3 L1437.1 729.0 L1437.1 729.0 L1437.4 722.2 L1437.7 719.4 L1438.0 717.4 L1438.3 715.8 L1438.6 714.5 L1438.9 713.3 L1439.2 712.3 L1439.6 711.4 L1439.9 710.7 L1440.2 710.0 L1440.5 709.4 L1440.8 708.9 L1441.1 708.4 L1441.4 708.1 L1441.7 707.7 L1442.0 707.5 L1442.3 707.3 L1442.6 707.1 L1442.9 707.1 L1443.2 707.0 L1444.9 706.5 L1445.1 706.5 L1445.4 531.6 L1446.7 788.7 L1446.6 774.3 L1447.9 724.6 L1447.9 724.6 L1448.2 718.1 L1448.6 715.6 L1448.9 713.7 L1449.3 712.1 L1449.6 710.9 L1450.0 709.8 L1450.3 708.8 L1450.6 708.0 L1451.0 707.2 L1451.3 706.6 L1451.7 706.0 L1452.0 705.5 L1452.4 705.1 L1452.7 704.8 L1453.0 704.5 L1453.4 704.2 L1453.7 704.0 L1454.1 703.9 L1454.4 703.8 L1454.8 703.8 L1456.6 703.3 L1456.8 703.3 L1457.1 510.6 L1458.4 780.8 L1458.1 771.6 L1459.6 719.6 L1459.6 719.6 L1459.9 713.4 L1460.2 711.0 L1460.6 709.2 L1460.9 707.7 L1461.2 706.5 L1461.5 705.5 L1461.8 704.6 L1462.2 703.8 L1462.5 703.1 L1462.8 702.5 L1463.1 701.9 L1463.4 701.5 L1463.7 701.1 L1464.1 700.7 L1464.4 700.5 L1464.7 700.2 L1465.0 700.1 L1465.3 699.9 L1465.7 699.9 L1466.0 699.8 L1467.7 699.2 L1467.9 699.2 L1468.2 492.0 L1469.5 772.8 L1468.9 768.5 L1470.7 714.5 L1470.7 714.5 L1471.0 708.6 L1471.3 706.3 L1471.7 704.6 L1472.0 703.2 L1472.3 702.0 L1472.6 701.0 L1472.9 700.2 L1473.3 699.4 L1473.6 698.8 L1473.9 698.2 L1474.2 697.7 L1474.5 697.2 L1474.8 696.8 L1475.2 696.5 L1475.5 696.2 L1475.8 696.0 L1476.1 695.9 L1476.4 695.7 L1476.8 695.7 L1477.1 695.7 L1478.8 695.0 L1479.0 695.0 L1479.3 471.6 L1480.6 764.9 L1479.8 764.9 L1481.8 708.7 L1481.8 708.7 L1482.1 703.1 L1482.4 700.9 L1482.8 699.3 L1483.1 698.0 L1483.4 696.9 L1483.7 695.9 L1484.0 695.1 L1484.4 694.4 L1484.7 693.7 L1485.0 693.2 L1485.3 692.7 L1485.6 692.3 L1485.9 691.9 L1486.3 691.6 L1486.6 691.3 L1486.9 691.1 L1487.2 691.0 L1487.5 690.9 L1487.9 690.8 L1488.2 690.8 L1489.9 690.0 L1490.1 690.0 L1490.4 447.6 L1491.7 757.0 L1491.6 690.0 L1490.4 690.0 L1491.4 689.5 L1492.4 688.9 L1493.4 688.3 L1494.4 687.7 L1495.4 687.1 L1496.4 686.5 L1497.4 685.9 L1498.4 685.2 L1499.4 684.5 L1500.4 683.9 L1501.4 683.2 L1502.4 682.5 L1502.1 682.5 L1502.4 417.5 L1503.7 745.3 L1503.6 682.5 L1502.4 682.5 L1503.4 681.8 L1504.4 681.1 L1505.4 680.4 L1506.4 679.8 L1507.4 679.0 L1508.4 678.3 L1509.4 677.6 L1510.4 676.8 L1511.4 676.0 L1512.4 675.1 L1513.4 674.2 L1514.4 673.3 L1514.1 673.3 L1514.4 386.0 L1515.7 732.0 L1515.6 673.3 L1514.4 673.3 L1515.4 672.3 L1516.4 671.2 L1517.4 670.1 L1518.4 668.9 L1519.4 667.6 L1520.4 666.3 L1521.4 664.9 L1522.4 663.5 L1523.4 662.0 L1524.4 660.5 L1525.4 659.0 L1526.4 657.5 L1526.1 657.5 L1526.4 344.0 L1527.7 715.3 L1527.6 657.5 L1526.4 657.5 L1527.4 655.9 L1528.5 654.1 L1529.5 652.3 L1530.5 650.5 L1531.6 648.6 L1532.6 646.6 L1533.6 644.6 L1534.7 642.6 L1535.7 640.5 L1536.7 638.4 L1537.8 636.3 L1538.8 634.2 L1538.5 634.2 L1538.8 285.5 L1540.1 687.8 L1540.0 634.2 L1538.8 634.2 L1539.9 632.1 L1540.9 630.0 L1542.0 627.9 L1543.1 625.9 L1544.1 623.8 L1545.2 621.7 L1546.3 619.4 L1547.3 617.1 L1548.4 614.5 L1549.5 611.8 L1550.5 608.9 L1551.6 605.8 L1551.3 605.8 L1551.6 204.5 L1552.9 655.3 L1552.8 605.8 L1551.6 605.8 L1552.1 604.2 L1552.6 602.5 L1553.1 600.6 L1553.6 598.6 L1554.1 596.5 L1554.5 594.4 L1555.0 592.1 L1555.5 589.8 L1556.0 587.4 L1556.5 584.9 L1557.0 582.5 L1557.5 580.0" stroke-width="3.0"/>
<path d="M306.3 1018.8 L307.6 1052.4 M323.4 1012.5 L324.7 1050.1 M341.3 1005.3 L342.6 1047.3 M358.6 989.9 L358.6 999.0 M358.6 999.0 L359.9 1045.5 M377.0 979.9 L377.0 991.1 M377.0 991.1 L378.3 1043.1 M395.2 968.2 L395.2 982.3 M395.2 982.3 L396.5 1039.6 M396.5 1039.6 L395.9 1036.8 M413.9 958.2 L413.9 972.0 M413.9 972.0 L415.2 1036.1 M415.2 1036.1 L414.7 1030.0 M432.6 948.4 L432.6 961.8 M432.6 961.8 L433.9 1033.8 M433.9 1033.8 L433.6 1023.8 M451.2 940.9 L451.2 952.6 M451.2 952.6 L452.5 1031.0 M452.5 1031.0 L452.4 1017.2 M469.9 931.6 L469.9 946.9 M469.9 946.9 L471.2 1028.6 M471.2 1028.6 L471.3 1010.6 M489.0 925.5 L489.0 940.6 M489.0 940.6 L490.3 1025.6 M490.3 1025.6 L490.5 1003.9 M507.9 918.1 L507.9 937.0 M507.9 937.0 L509.2 1023.3 M509.2 1023.3 L509.6 997.9 M526.6 911.1 L526.6 934.6 M526.6 934.6 L527.9 1020.9 M527.9 1020.9 L528.5 991.7 M545.0 905.9 L545.0 931.8 M545.0 931.8 L546.3 1018.6 M546.3 1018.6 L547.1 985.4 M564.2 900.2 L564.2 928.5 M564.2 928.5 L565.5 1016.3 M565.5 1016.3 L566.4 978.8 M582.1 894.9 L582.1 924.7 M582.1 924.7 L583.4 1014.2 M583.4 1014.2 L584.5 971.8 M600.5 890.9 L600.5 920.0 M600.5 920.0 L601.8 1012.1 M601.8 1012.1 L602.9 968.5 M618.7 886.4 L618.7 915.2 M618.7 915.2 L620.0 1010.0 M620.0 1010.0 L621.1 965.2 M636.5 881.1 L636.5 910.5 M636.5 910.5 L637.8 1007.9 M637.8 1007.9 L638.9 962.0 M655.2 877.6 L655.2 905.8 M655.2 905.8 L656.5 1005.8 M656.5 1005.8 L657.6 958.7 M673.1 873.1 L673.1 901.2 M673.1 901.2 L674.4 1003.7 M674.4 1003.7 L675.5 955.5 M690.7 868.3 L690.7 896.5 M690.7 896.5 L692.0 1001.6 M692.0 1001.6 L693.1 952.2 M708.5 865.1 L708.5 891.8 M708.5 891.8 L709.8 999.5 M709.8 999.5 L710.9 949.2 M726.4 860.3 L726.4 887.8 M726.4 887.8 L727.7 996.3 M727.7 996.3 L728.8 945.7 M743.7 857.1 L743.7 883.8 M743.7 883.8 L745.0 993.6 M745.0 993.6 L746.1 942.1 M761.3 852.3 L761.3 879.2 M761.3 879.2 L762.6 991.0 M762.6 991.0 L763.7 938.6 M778.7 848.3 L778.7 874.5 M778.7 874.5 L780.0 988.8 M780.0 988.8 L781.1 935.9 M795.5 843.7 L795.5 871.2 M795.5 871.2 L796.8 986.2 M796.8 986.2 L797.9 932.5 M812.5 841.1 L812.5 867.0 M812.5 867.0 L813.8 983.5 M813.8 983.5 L814.9 929.2 M829.3 836.3 L829.3 862.7 M829.3 862.7 L830.6 980.8 M830.6 980.8 L831.7 925.8 M845.6 833.2 L845.6 858.5 M845.6 858.5 L846.9 978.7 M846.9 978.7 L848.0 922.7 M862.0 828.3 L862.0 854.2 M862.0 854.2 L863.3 976.2 M863.3 976.2 L864.4 919.6 M878.3 824.3 L878.3 850.4 M878.3 850.4 L879.6 972.8 M879.6 972.8 L880.7 916.0 M894.3 820.9 L894.3 846.6 M894.3 846.6 L895.6 969.5 M895.6 969.5 L896.7 912.5 M910.3 816.9 L910.3 842.8 M910.3 842.8 L911.6 967.8 M911.6 967.8 L912.7 909.8 M926.3 812.3 L926.3 839.0 M926.3 839.0 L927.6 964.5 M927.6 964.5 L928.7 906.3 M942.3 809.3 L942.3 835.2 M942.3 835.2 L943.6 962.2 M943.6 962.2 L944.7 903.3 M958.3 804.9 L958.3 831.4 M958.3 831.4 L959.6 957.8 M959.6 957.8 L960.7 899.2 M973.7 800.6 L973.7 827.6 M973.7 827.6 L975.0 955.5 M975.0 955.5 L976.1 896.2 M989.0 796.6 L989.0 823.8 M989.0 823.8 L990.3 952.2 M990.3 952.2 L991.4 892.7 M1004.3 791.6 L1004.3 820.0 M1004.3 820.0 L1005.6 948.8 M1005.6 948.8 L1006.7 888.9 M1019.7 787.6 L1019.7 815.8 M1019.7 815.8 L1021.0 945.5 M1021.0 945.5 L1022.1 885.6 M1034.3 782.3 L1034.3 812.5 M1034.3 812.5 L1035.6 942.2 M1035.6 942.2 L1036.7 881.9 M1049.3 777.3 L1049.3 808.3 M1049.3 808.3 L1050.6 939.5 M1050.6 939.5 L1051.7 879.0 M1063.7 773.3 L1063.7 805.1 M1063.7 805.1 L1065.0 936.2 M1065.0 936.2 L1066.1 875.8 M1078.3 768.9 L1078.3 801.9 M1078.3 801.9 L1079.6 932.2 M1079.6 932.2 L1080.7 872.1 M1092.7 763.3 L1092.7 798.8 M1092.7 798.8 L1094.0 928.8 M1094.0 928.8 L1095.1 868.8 M1107.3 757.3 L1107.3 795.6 M1107.3 795.6 L1108.6 925.5 M1108.6 925.5 L1109.7 865.6 M1121.7 752.6 L1121.7 792.4 M1121.7 792.4 L1123.0 921.2 M1123.0 921.2 L1124.1 861.8 M1135.5 746.6 L1135.5 789.2 M1135.5 789.2 L1136.8 917.8 M1136.8 917.8 L1137.9 857.2 M1149.3 739.9 L1149.3 783.2 M1149.3 783.2 L1150.6 913.6 M1150.6 913.6 L1151.7 853.4 M1162.7 734.9 L1162.7 779.8 M1162.7 779.8 L1164.0 909.5 M1164.0 909.5 L1165.1 850.0 M1176.3 728.3 L1176.3 777.2 M1176.3 777.2 L1177.6 905.3 M1177.6 905.3 L1178.7 845.9 M1190.0 721.6 L1190.0 773.2 M1190.0 773.2 L1191.3 901.2 M1191.3 901.2 L1192.4 842.4 M1203.3 716.6 L1203.3 770.5 M1203.3 770.5 L1204.6 897.0 M1204.6 897.0 L1205.7 838.3 M1216.3 709.9 L1216.3 766.5 M1216.3 766.5 L1217.6 892.8 M1217.6 892.8 L1218.7 834.5 M1229.3 702.3 L1229.3 763.2 M1229.3 763.2 L1230.6 888.7 M1230.6 888.7 L1231.7 830.7 M1242.3 696.6 L1242.3 759.8 M1242.3 759.8 L1243.6 884.5 M1243.6 884.5 L1244.7 827.2 M1255.3 689.9 L1255.3 757.2 M1255.3 757.2 L1256.6 880.4 M1256.6 880.4 L1257.7 823.4 M1268.3 681.6 L1268.3 753.8 M1268.3 753.8 L1269.6 876.2 M1269.6 876.2 L1270.7 819.3 M1281.0 674.9 L1281.0 749.8 M1281.0 749.8 L1282.3 871.2 M1282.3 871.2 L1283.4 815.1 M1293.3 667.6 L1293.3 746.5 M1293.3 746.5 L1294.6 866.2 M1294.6 866.2 L1295.7 811.0 M1305.7 659.9 L1305.7 743.6 M1305.7 743.6 L1307.0 861.2 M1307.0 861.2 L1308.1 806.9 M1318.3 651.6 L1318.3 740.6 M1318.3 740.6 L1319.6 856.2 M1319.6 856.2 L1320.7 802.9 M1330.3 643.9 L1330.3 737.7 M1330.3 737.7 L1331.6 851.2 M1331.6 851.2 L1332.7 798.8 M1342.3 635.6 L1342.3 734.8 M1342.3 734.8 L1343.6 846.2 M1343.6 846.2 L1344.7 794.7 M1354.0 625.6 L1354.0 731.8 M1354.0 731.8 L1355.3 841.2 M1355.3 841.2 L1356.4 790.7 M1366.0 616.6 L1366.0 728.9 M1366.0 728.9 L1367.3 835.5 M1367.3 835.5 L1368.4 786.2 M1377.3 606.6 L1377.3 725.9 M1377.3 725.9 L1378.6 830.2 M1378.6 830.2 L1379.7 782.0 M1389.0 596.6 L1389.0 723.0 M1389.0 723.0 L1390.3 824.5 M1390.3 824.5 L1391.4 777.5 M1400.7 585.6 L1400.7 720.1 M1400.7 720.1 L1402.0 817.8 M1402.0 817.8 L1402.9 778.2 M1412.3 573.9 L1412.3 717.1 M1412.3 717.1 L1413.6 811.2 M1413.6 811.2 L1414.3 778.5 M1423.4 561.6 L1423.4 714.2 M1423.4 714.2 L1424.7 804.5 M1424.7 804.5 L1425.1 777.9 M1434.6 547.5 L1434.6 710.0 M1434.6 710.0 L1435.9 796.6 M1435.9 796.6 L1436.0 776.3 M1445.4 531.6 L1445.4 706.5 M1445.4 706.5 L1446.7 788.7 M1446.7 788.7 L1446.6 774.3 M1457.1 510.6 L1457.1 703.3 M1457.1 703.3 L1458.4 780.8 M1458.4 780.8 L1458.1 771.6 M1468.2 492.0 L1468.2 699.2 M1468.2 699.2 L1469.5 772.8 M1469.5 772.8 L1468.9 768.5 M1479.3 471.6 L1479.3 695.0 M1479.3 695.0 L1480.6 764.9 M1490.4 447.6 L1490.4 690.0 M1490.4 690.0 L1491.7 757.0 M1502.4 417.5 L1502.4 682.5 M1502.4 682.5 L1503.7 745.3 M1514.4 386.0 L1514.4 673.3 M1514.4 673.3 L1515.7 732.0 M1526.4 344.0 L1526.4 657.5 M1526.4 657.5 L1527.7 715.3 M1538.8 285.5 L1538.8 634.2 M1538.8 634.2 L1540.1 687.8 M1551.6 204.5 L1551.6 605.8 M1551.6 605.8 L1552.9 655.3" stroke-width="4.6" stroke-dasharray="0 7"/>
<path d="M288.0 1030.0 L290.1 1055.9 M290.1 1055.9 L290.3 1055.9 M290.3 1055.9 L290.8 1046.1 L291.3 1041.7 L291.9 1038.4 L292.4 1035.6 L292.9 1033.2 L293.4 1031.1 L293.9 1029.2 L294.5 1027.5 L295.0 1026.0 L295.5 1024.6 L296.0 1023.4 L296.5 1022.4 L297.1 1021.5 L297.6 1020.7 L298.1 1020.0 L298.6 1019.5 L299.1 1019.0 L299.7 1018.7 L300.2 1018.6 L300.7 1018.5 L304.3 1019.1 L305.7 1021.3 M305.9 1019.8 L307.2 1052.4 M307.6 1052.4 L307.8 1052.4 M307.8 1052.4 L308.3 1041.8 L308.8 1037.2 L309.3 1033.6 L309.8 1030.6 L310.3 1028.0 L310.8 1025.7 L311.3 1023.7 L311.9 1021.9 L312.4 1020.3 L312.9 1018.8 L313.4 1017.5 L313.9 1016.4 L314.4 1015.4 L314.9 1014.5 L315.4 1013.8 L315.9 1013.2 L316.4 1012.8 L316.9 1012.5 L317.4 1012.3 L317.9 1012.2 L321.4 1012.8 L322.8 1015.0 M323.0 1013.5 L324.3 1050.1 M324.7 1050.1 L326.9 1040.2 M326.9 1040.2 L327.3 1031.0 L327.8 1026.9 L328.2 1023.8 L328.6 1021.1 L329.1 1018.9 L329.5 1016.9 L329.9 1015.1 L330.4 1013.5 L330.8 1012.1 L331.2 1010.8 L331.7 1009.7 L332.1 1008.7 L332.5 1007.8 L333.0 1007.0 L333.4 1006.4 L333.8 1005.9 L334.3 1005.5 L334.7 1005.2 L335.1 1005.1 L335.6 1005.0 L339.3 1005.6 L340.7 1007.8 M340.9 1006.3 L342.2 1047.3 M342.6 1047.3 L344.8 1026.0 M344.8 1026.0 L345.2 1018.9 L345.6 1015.7 L346.0 1013.3 L346.5 1011.2 L346.9 1009.5 L347.3 1007.9 L347.7 1006.5 L348.1 1005.3 L348.5 1004.2 L348.9 1003.2 L349.3 1002.3 L349.8 1001.5 L350.2 1000.9 L350.6 1000.3 L351.0 999.8 L351.4 999.4 L351.8 999.1 L352.2 998.9 L352.7 998.7 L353.1 998.7 L356.6 999.3 L358.0 1001.5 M358.2 1000.0 L359.5 1045.5 M359.9 1045.5 L362.1 1009.6 M362.1 1009.6 L362.7 1007.6 L363.2 1006.1 L363.8 1004.6 L364.3 1003.3 L364.9 1002.0 L365.5 1000.8 L366.0 999.7 L366.6 998.7 L367.1 997.7 L367.7 996.8 L368.3 996.0 L368.8 995.3 L369.4 994.6 L370.0 994.1 L370.5 993.6 L371.1 993.2 L371.6 992.9 L372.2 992.6 L372.8 992.5 L373.3 992.5 L376.5 991.1 M376.6 992.1 L377.9 1043.1 M378.3 1043.1 L380.5 1003.0 M380.5 1003.0 L381.1 1000.8 L381.6 999.0 L382.2 997.4 L382.7 995.9 L383.3 994.5 L383.8 993.2 L384.4 991.9 L384.9 990.8 L385.5 989.7 L386.0 988.7 L386.6 987.8 L387.1 987.0 L387.7 986.2 L388.2 985.6 L388.8 985.1 L389.3 984.6 L389.9 984.3 L390.5 984.0 L391.0 983.9 L391.6 983.8 L394.7 982.3 M394.8 983.3 L396.0 1037.3 M395.9 1036.8 L398.7 995.0 M398.7 995.0 L399.3 992.5 L399.8 990.6 L400.4 988.8 L401.0 987.2 L401.6 985.6 L402.1 984.1 L402.7 982.8 L403.3 981.5 L403.9 980.3 L404.4 979.2 L405.0 978.2 L405.6 977.3 L406.1 976.5 L406.7 975.8 L407.3 975.2 L407.9 974.7 L408.4 974.3 L409.0 974.0 L409.6 973.8 L410.2 973.8 L413.4 972.0 M413.5 973.0 L414.7 1030.9 M414.7 1030.0 L417.4 987.1 M417.4 987.1 L418.0 984.4 L418.5 982.2 L419.1 980.2 L419.7 978.4 L420.3 976.7 L420.8 975.1 L421.4 973.5 L422.0 972.1 L422.6 970.8 L423.1 969.6 L423.7 968.4 L424.3 967.4 L424.8 966.5 L425.4 965.8 L426.0 965.1 L426.6 964.5 L427.1 964.1 L427.7 963.8 L428.3 963.6 L428.9 963.6 L432.1 961.8 M432.2 962.8 L433.3 1025.0 M433.6 1023.8 L436.1 980.2 M436.1 980.2 L436.7 977.2 L437.2 974.8 L437.8 972.7 L438.4 970.6 L438.9 968.7 L439.5 966.9 L440.1 965.2 L440.7 963.6 L441.2 962.2 L441.8 960.8 L442.4 959.6 L442.9 958.5 L443.5 957.5 L444.1 956.6 L444.6 955.9 L445.2 955.3 L445.8 954.8 L446.3 954.5 L446.9 954.3 L447.5 954.2 L450.7 952.6 M450.8 953.6 L451.9 1018.2 M452.4 1017.2 L454.7 975.5 M454.7 975.5 L455.3 972.3 L455.8 969.8 L456.4 967.5 L457.0 965.3 L457.6 963.3 L458.1 961.4 L458.7 959.6 L459.3 957.9 L459.9 956.4 L460.4 954.9 L461.0 953.6 L461.6 952.4 L462.1 951.4 L462.7 950.5 L463.3 949.7 L463.9 949.0 L464.4 948.5 L465.0 948.2 L465.6 948.0 L466.2 947.9 L469.4 946.9 M469.5 947.9 L470.5 1011.9 M471.3 1010.6 L473.4 970.5 M473.4 970.5 L474.0 967.2 L474.6 964.6 L475.2 962.1 L475.8 959.9 L476.3 957.8 L476.9 955.8 L477.5 953.9 L478.1 952.2 L478.7 950.5 L479.3 949.1 L479.9 947.7 L480.5 946.4 L481.1 945.3 L481.6 944.4 L482.2 943.6 L482.8 942.9 L483.4 942.4 L484.0 942.0 L484.6 941.8 L485.2 941.7 L488.5 940.6 M488.6 941.6 L489.6 1004.7 M490.5 1003.9 L492.5 966.9 M492.5 966.9 L493.0 963.3 L493.6 960.6 L494.2 958.1 L494.8 955.9 L495.4 953.7 L496.0 951.7 L496.5 949.8 L497.1 948.1 L497.7 946.5 L498.3 945.0 L498.9 943.6 L499.5 942.4 L500.0 941.3 L500.6 940.3 L501.2 939.5 L501.8 938.8 L502.4 938.3 L503.0 937.9 L503.5 937.7 L504.1 937.6 L507.4 937.0 M507.5 938.0 L508.4 998.6 M509.6 997.9 L511.3 964.2 M511.3 964.2 L511.9 960.5 L512.5 957.7 L513.1 955.3 L513.6 953.0 L514.2 950.9 L514.8 948.9 L515.4 947.0 L515.9 945.3 L516.5 943.7 L517.1 942.2 L517.7 940.9 L518.2 939.7 L518.8 938.6 L519.4 937.7 L520.0 936.9 L520.6 936.2 L521.1 935.7 L521.7 935.3 L522.3 935.1 L522.9 935.0 L526.1 934.6 M526.2 935.6 L527.1 992.7 M528.5 991.7 L530.0 961.3 M530.0 961.3 L530.6 957.4 L531.1 954.6 L531.7 952.2 L532.3 949.9 L532.8 947.8 L533.4 945.9 L534.0 944.1 L534.5 942.4 L535.1 940.8 L535.7 939.3 L536.2 938.0 L536.8 936.8 L537.4 935.8 L537.9 934.9 L538.5 934.1 L539.1 933.4 L539.6 932.9 L540.2 932.6 L540.8 932.4 L541.3 932.3 L544.5 931.8 M544.6 932.8 L545.4 986.6 M547.1 985.4 L548.4 958.1 M548.4 958.1 L549.0 954.0 L549.6 951.2 L550.2 948.7 L550.8 946.5 L551.4 944.4 L552.0 942.5 L552.6 940.7 L553.2 939.0 L553.8 937.4 L554.4 936.0 L555.0 934.7 L555.6 933.5 L556.2 932.5 L556.8 931.6 L557.4 930.8 L558.0 930.2 L558.6 929.7 L559.2 929.4 L559.8 929.1 L560.4 929.1 L563.7 928.5 M563.8 929.5 L564.6 980.4 M566.4 978.8 L567.5 954.5 M567.5 954.5 L568.1 950.2 L568.6 947.3 L569.2 944.9 L569.7 942.6 L570.3 940.5 L570.8 938.6 L571.4 936.8 L571.9 935.1 L572.5 933.6 L573.0 932.2 L573.6 930.9 L574.1 929.8 L574.7 928.7 L575.2 927.8 L575.8 927.1 L576.3 926.5 L576.9 926.0 L577.4 925.6 L578.0 925.4 L578.5 925.4 L581.6 924.7 M581.7 925.7 L582.4 973.9 M584.5 971.8 L585.4 950.3 M585.4 950.3 L586.0 945.8 L586.5 942.9 L587.1 940.3 L587.7 938.1 L588.3 936.0 L588.8 934.0 L589.4 932.2 L590.0 930.6 L590.5 929.0 L591.1 927.6 L591.7 926.3 L592.3 925.2 L592.8 924.2 L593.4 923.3 L594.0 922.5 L594.5 921.9 L595.1 921.4 L595.7 921.1 L596.2 920.9 L596.8 920.8 L600.0 920.0 M600.1 921.0 L600.8 970.6 M602.9 968.5 L603.8 946.1 M603.8 946.1 L604.3 941.3 L604.9 938.3 L605.5 935.8 L606.0 933.4 L606.6 931.3 L607.2 929.3 L607.7 927.5 L608.3 925.9 L608.8 924.3 L609.4 922.9 L610.0 921.6 L610.5 920.5 L611.1 919.4 L611.7 918.5 L612.2 917.8 L612.8 917.2 L613.4 916.7 L613.9 916.3 L614.5 916.1 L615.1 916.1 L618.2 915.2 M618.3 916.2 L619.0 967.4 M621.1 965.2 L621.9 942.0 M621.9 942.0 L622.5 936.8 L623.0 933.8 L623.6 931.1 L624.1 928.8 L624.7 926.6 L625.2 924.7 L625.8 922.8 L626.3 921.1 L626.9 919.6 L627.4 918.2 L628.0 916.9 L628.5 915.7 L629.1 914.7 L629.6 913.8 L630.2 913.1 L630.7 912.4 L631.3 912.0 L631.8 911.6 L632.4 911.4 L632.9 911.3 L636.0 910.5 M636.1 911.5 L636.8 964.1 M638.9 962.0 L639.7 937.8 M639.7 937.8 L640.3 932.3 L640.9 929.2 L641.5 926.5 L642.1 924.1 L642.6 921.9 L643.2 919.9 L643.8 918.1 L644.4 916.4 L645.0 914.9 L645.6 913.4 L646.2 912.1 L646.8 911.0 L647.3 910.0 L647.9 909.1 L648.5 908.3 L649.1 907.7 L649.7 907.2 L650.3 906.9 L650.9 906.7 L651.5 906.6 L654.7 905.8 M654.8 906.8 L655.5 960.8 M657.6 958.7 L658.4 933.6 M658.4 933.6 L658.9 927.9 L659.5 924.7 L660.0 921.9 L660.6 919.5 L661.2 917.3 L661.7 915.3 L662.3 913.5 L662.8 911.8 L663.4 910.2 L663.9 908.8 L664.5 907.5 L665.1 906.3 L665.6 905.3 L666.2 904.4 L666.7 903.7 L667.3 903.1 L667.8 902.6 L668.4 902.3 L669.0 902.1 L669.5 902.0 L672.6 901.2 M672.7 902.2 L673.4 957.6 M675.5 955.5 L676.2 929.4 M676.2 929.4 L676.8 923.4 L677.3 920.1 L677.9 917.3 L678.4 914.9 L679.0 912.6 L679.5 910.6 L680.1 908.8 L680.6 907.1 L681.2 905.5 L681.7 904.1 L682.3 902.8 L682.8 901.6 L683.3 900.6 L683.9 899.7 L684.4 899.0 L685.0 898.4 L685.5 897.9 L686.1 897.6 L686.6 897.4 L687.2 897.3 L690.2 896.5 M690.3 897.5 L691.0 954.3 M693.1 952.2 L693.8 925.2 M693.8 925.2 L694.4 918.9 L694.9 915.5 L695.5 912.6 L696.0 910.2 L696.6 907.9 L697.1 905.9 L697.7 904.0 L698.3 902.3 L698.8 900.8 L699.4 899.3 L699.9 898.1 L700.5 896.9 L701.0 895.9 L701.6 895.0 L702.2 894.3 L702.7 893.7 L703.3 893.2 L703.8 892.9 L704.4 892.7 L704.9 892.6 L708.0 891.8 M708.1 892.8 L708.8 951.0 M710.9 949.2 L711.6 921.4 M711.6 921.4 L712.1 914.8 L712.7 911.3 L713.3 908.5 L713.8 906.0 L714.4 903.7 L714.9 901.7 L715.5 899.8 L716.1 898.1 L716.6 896.6 L717.2 895.2 L717.8 893.9 L718.3 892.8 L718.9 891.8 L719.4 890.9 L720.0 890.2 L720.6 889.6 L721.1 889.1 L721.7 888.8 L722.3 888.6 L722.8 888.5 L725.9 887.8 M726.0 888.8 L726.7 947.5 M728.8 945.7 L729.4 917.3 M729.4 917.3 L730.0 910.5 L730.5 907.0 L731.1 904.2 L731.6 901.7 L732.1 899.4 L732.7 897.4 L733.2 895.6 L733.8 893.9 L734.3 892.4 L734.8 891.0 L735.4 889.8 L735.9 888.7 L736.5 887.7 L737.0 886.8 L737.5 886.1 L738.1 885.5 L738.6 885.1 L739.2 884.7 L739.7 884.5 L740.2 884.5 L743.2 883.8 M743.3 884.8 L744.0 944.2 M746.1 942.1 L746.7 912.9 M746.7 912.9 L747.3 905.9 L747.8 902.4 L748.4 899.5 L748.9 897.0 L749.5 894.8 L750.0 892.8 L750.6 890.9 L751.1 889.3 L751.7 887.8 L752.2 886.4 L752.8 885.2 L753.3 884.1 L753.9 883.1 L754.5 882.3 L755.0 881.6 L755.6 881.0 L756.1 880.6 L756.7 880.2 L757.2 880.1 L757.8 880.0 L760.8 879.2 M760.9 880.2 L761.6 940.7 M763.7 938.6 L764.3 908.5 M764.3 908.5 L764.8 901.2 L765.4 897.6 L765.9 894.7 L766.5 892.2 L767.0 890.0 L767.6 887.9 L768.1 886.1 L768.6 884.5 L769.2 883.0 L769.7 881.6 L770.3 880.4 L770.8 879.3 L771.4 878.4 L771.9 877.6 L772.5 876.9 L773.0 876.3 L773.6 875.9 L774.1 875.6 L774.7 875.4 L775.2 875.3 L778.2 874.5 M778.3 875.5 L779.0 937.4 M781.1 935.9 L781.6 905.2 M781.6 905.2 L782.2 897.6 L782.7 893.9 L783.2 891.0 L783.7 888.5 L784.3 886.3 L784.8 884.3 L785.3 882.5 L785.8 880.8 L786.4 879.3 L786.9 878.0 L787.4 876.8 L787.9 875.7 L788.5 874.8 L789.0 874.0 L789.5 873.3 L790.0 872.7 L790.6 872.3 L791.1 872.0 L791.6 871.8 L792.1 871.8 L795.0 871.2 M795.1 872.2 L795.8 934.5 M797.9 932.5 L798.4 901.1 M798.4 901.1 L798.9 893.3 L799.5 889.6 L800.0 886.6 L800.5 884.1 L801.1 881.9 L801.6 879.9 L802.1 878.2 L802.7 876.5 L803.2 875.1 L803.8 873.8 L804.3 872.6 L804.8 871.6 L805.4 870.6 L805.9 869.9 L806.4 869.2 L807.0 868.7 L807.5 868.2 L808.0 867.9 L808.6 867.7 L809.1 867.7 L812.0 867.0 M812.1 868.0 L812.8 931.1 M814.9 929.2 L815.4 896.9 M815.4 896.9 L815.9 888.9 L816.4 885.1 L817.0 882.2 L817.5 879.7 L818.0 877.5 L818.5 875.5 L819.1 873.7 L819.6 872.2 L820.1 870.7 L820.7 869.4 L821.2 868.3 L821.7 867.2 L822.2 866.3 L822.8 865.6 L823.3 864.9 L823.8 864.4 L824.4 864.0 L824.9 863.7 L825.4 863.5 L825.9 863.5 L828.8 862.7 M828.9 863.7 L829.6 927.7 M831.7 925.8 L832.1 892.7 M832.1 892.7 L832.6 884.5 L833.2 880.7 L833.7 877.7 L834.2 875.2 L834.7 873.0 L835.2 871.1 L835.7 869.3 L836.2 867.7 L836.7 866.3 L837.2 865.1 L837.7 863.9 L838.3 862.9 L838.8 862.0 L839.3 861.3 L839.8 860.7 L840.3 860.1 L840.8 859.7 L841.3 859.4 L841.8 859.3 L842.3 859.2 L845.1 858.5 M845.2 859.5 L845.9 924.6 M848.0 922.7 L848.4 888.7 M848.4 888.7 L848.9 880.1 L849.4 876.3 L849.9 873.3 L850.5 870.8 L851.0 868.6 L851.5 866.6 L852.0 864.9 L852.5 863.3 L853.0 861.9 L853.6 860.7 L854.1 859.6 L854.6 858.6 L855.1 857.7 L855.6 857.0 L856.1 856.3 L856.7 855.8 L857.2 855.4 L857.7 855.2 L858.2 855.0 L858.7 854.9 L861.5 854.2 M861.6 855.2 L862.3 921.3 M864.4 919.6 L864.8 884.9 M864.8 884.9 L865.3 876.1 L865.8 872.2 L866.3 869.2 L866.8 866.7 L867.3 864.5 L867.8 862.5 L868.4 860.8 L868.9 859.3 L869.4 857.9 L869.9 856.7 L870.4 855.6 L870.9 854.6 L871.4 853.8 L872.0 853.0 L872.5 852.4 L873.0 851.9 L873.5 851.5 L874.0 851.3 L874.5 851.1 L875.0 851.0 L877.8 850.4 M877.9 851.4 L878.6 917.7 M880.7 916.0 L881.0 880.8 M881.0 880.8 L881.5 871.9 L882.0 868.0 L882.5 865.0 L883.0 862.5 L883.5 860.3 L884.1 858.4 L884.6 856.7 L885.1 855.2 L885.6 853.9 L886.1 852.7 L886.6 851.6 L887.1 850.7 L887.6 849.9 L888.1 849.2 L888.6 848.6 L889.1 848.1 L889.6 847.7 L890.1 847.5 L890.6 847.3 L891.1 847.2 L893.8 846.6 M893.9 847.6 L894.6 914.2 M896.7 912.5 L897.0 876.8 M897.0 876.8 L897.5 867.7 L898.0 863.8 L898.5 860.8 L899.0 858.3 L899.5 856.2 L900.0 854.3 L900.5 852.7 L901.0 851.2 L901.5 849.9 L902.0 848.7 L902.6 847.7 L903.1 846.8 L903.6 846.0 L904.1 845.3 L904.6 844.7 L905.1 844.3 L905.6 843.9 L906.1 843.6 L906.6 843.5 L907.1 843.4 L909.8 842.8 M909.9 843.8 L910.6 911.5 M912.7 909.8 L913.0 873.1 M913.0 873.1 L913.5 863.8 L914.0 859.8 L914.5 856.8 L915.0 854.3 L915.5 852.2 L916.0 850.3 L916.5 848.7 L917.0 847.3 L917.5 846.0 L918.0 844.8 L918.5 843.8 L919.0 842.9 L919.6 842.1 L920.1 841.4 L920.6 840.9 L921.1 840.4 L921.6 840.1 L922.1 839.8 L922.6 839.7 L923.1 839.6 L925.8 839.0 M925.9 840.0 L926.6 908.0 M928.7 906.3 L928.9 869.1 M928.9 869.1 L929.4 859.6 L929.9 855.6 L930.5 852.6 L931.0 850.2 L931.5 848.1 L932.0 846.2 L932.5 844.6 L933.0 843.2 L933.5 842.0 L934.0 840.8 L934.5 839.8 L935.0 839.0 L935.5 838.2 L936.0 837.6 L936.6 837.0 L937.1 836.6 L937.6 836.3 L938.1 836.0 L938.6 835.9 L939.1 835.8 L941.8 835.2 M941.9 836.2 L942.6 905.1 M944.7 903.3 L944.9 865.3 M944.9 865.3 L945.4 855.6 L945.9 851.6 L946.4 848.6 L946.9 846.1 L947.4 844.0 L948.0 842.2 L948.5 840.6 L949.0 839.2 L949.5 838.0 L950.0 836.9 L950.5 835.9 L951.0 835.1 L951.5 834.4 L952.0 833.7 L952.5 833.2 L953.1 832.8 L953.6 832.5 L954.1 832.2 L954.6 832.1 L955.1 832.0 L957.8 831.4 M957.9 832.4 L958.6 900.9 M960.7 899.2 L960.9 860.9 M960.9 860.9 L961.4 851.2 L961.8 847.2 L962.3 844.2 L962.8 841.8 L963.3 839.8 L963.8 838.0 L964.3 836.5 L964.8 835.1 L965.3 833.9 L965.7 832.9 L966.2 832.0 L966.7 831.1 L967.2 830.4 L967.7 829.8 L968.2 829.3 L968.7 828.9 L969.2 828.6 L969.6 828.4 L970.1 828.3 L970.6 828.2 L973.2 827.6 M973.3 828.6 L974.0 897.9 M976.1 896.2 L976.2 857.1 M976.2 857.1 L976.7 847.1 L977.2 843.1 L977.7 840.2 L978.2 837.8 L978.7 835.7 L979.1 834.0 L979.6 832.5 L980.1 831.2 L980.6 830.0 L981.1 828.9 L981.6 828.0 L982.1 827.3 L982.5 826.6 L983.0 826.0 L983.5 825.5 L984.0 825.1 L984.5 824.8 L985.0 824.6 L985.5 824.5 L985.9 824.4 L988.5 823.8 M988.6 824.8 L989.3 894.4 M991.4 892.7 L991.5 853.0 M991.5 853.0 L992.0 842.9 L992.5 838.9 L993.0 836.0 L993.4 833.6 L993.9 831.6 L994.4 829.9 L994.9 828.4 L995.4 827.1 L995.9 826.0 L996.4 825.0 L996.9 824.1 L997.3 823.3 L997.8 822.7 L998.3 822.1 L998.8 821.7 L999.3 821.3 L999.8 821.0 L1000.3 820.8 L1000.8 820.7 L1001.2 820.6 L1003.8 820.0 M1003.9 821.0 L1004.6 890.8 M1006.7 888.9 L1006.8 849.0 M1006.8 849.0 L1007.3 838.9 L1007.8 834.9 L1008.3 831.9 L1008.8 829.5 L1009.3 827.5 L1009.7 825.8 L1010.2 824.3 L1010.7 823.0 L1011.2 821.9 L1011.7 820.9 L1012.2 820.0 L1012.7 819.2 L1013.2 818.6 L1013.7 818.0 L1014.2 817.5 L1014.7 817.2 L1015.1 816.9 L1015.6 816.7 L1016.1 816.5 L1016.6 816.5 L1019.2 815.8 M1019.3 816.8 L1020.0 887.1 M1022.1 885.6 L1022.2 845.8 M1022.2 845.8 L1022.7 835.5 L1023.1 831.5 L1023.6 828.5 L1024.0 826.1 L1024.5 824.1 L1025.0 822.4 L1025.4 820.9 L1025.9 819.6 L1026.3 818.4 L1026.8 817.4 L1027.2 816.5 L1027.7 815.8 L1028.2 815.1 L1028.6 814.6 L1029.1 814.1 L1029.5 813.7 L1030.0 813.4 L1030.5 813.2 L1030.9 813.1 L1031.4 813.0 L1033.8 812.5 M1033.9 813.5 L1034.6 883.8 M1036.7 881.9 L1036.8 841.8 M1036.8 841.8 L1037.3 831.5 L1037.8 827.5 L1038.2 824.5 L1038.7 822.1 L1039.2 820.1 L1039.6 818.4 L1040.1 816.9 L1040.6 815.6 L1041.1 814.4 L1041.5 813.4 L1042.0 812.5 L1042.5 811.7 L1043.0 811.1 L1043.5 810.5 L1043.9 810.0 L1044.4 809.7 L1044.9 809.4 L1045.3 809.2 L1045.8 809.0 L1046.3 809.0 L1048.8 808.3 M1048.9 809.3 L1049.6 880.5 M1051.7 879.0 L1051.8 838.7 M1051.8 838.7 L1052.3 828.4 L1052.7 824.3 L1053.2 821.3 L1053.6 818.9 L1054.1 816.8 L1054.5 815.1 L1055.0 813.6 L1055.4 812.3 L1055.9 811.1 L1056.3 810.1 L1056.8 809.2 L1057.2 808.4 L1057.7 807.7 L1058.1 807.2 L1058.6 806.7 L1059.0 806.3 L1059.5 806.0 L1059.9 805.8 L1060.4 805.7 L1060.8 805.6 L1063.2 805.1 M1063.3 806.1 L1064.0 877.2 M1066.1 875.8 L1066.2 835.5 M1066.2 835.5 L1066.7 825.2 L1067.1 821.1 L1067.6 818.1 L1068.0 815.7 L1068.5 813.6 L1069.0 811.9 L1069.4 810.4 L1069.9 809.1 L1070.3 807.9 L1070.8 806.9 L1071.2 806.0 L1071.7 805.2 L1072.2 804.6 L1072.6 804.0 L1073.1 803.5 L1073.5 803.1 L1074.0 802.8 L1074.5 802.6 L1074.9 802.5 L1075.4 802.5 L1077.8 801.9 M1077.9 802.9 L1078.6 873.6 M1080.7 872.1 L1080.8 832.1 M1080.8 832.1 L1081.3 821.9 L1081.7 817.8 L1082.2 814.8 L1082.6 812.4 L1083.1 810.4 L1083.5 808.7 L1084.0 807.2 L1084.4 805.8 L1084.9 804.7 L1085.3 803.7 L1085.8 802.8 L1086.2 802.0 L1086.7 801.4 L1087.1 800.8 L1087.6 800.3 L1088.0 799.9 L1088.5 799.6 L1088.9 799.4 L1089.4 799.3 L1089.8 799.3 L1092.2 798.8 M1092.3 799.8 L1093.0 870.3 M1095.1 868.8 L1095.2 828.9 M1095.2 828.9 L1095.7 818.6 L1096.1 814.6 L1096.6 811.6 L1097.0 809.2 L1097.5 807.2 L1098.0 805.5 L1098.4 804.0 L1098.9 802.7 L1099.3 801.5 L1099.8 800.5 L1100.2 799.6 L1100.7 798.8 L1101.2 798.2 L1101.6 797.6 L1102.1 797.1 L1102.5 796.8 L1103.0 796.5 L1103.5 796.3 L1103.9 796.1 L1104.4 796.1 L1106.8 795.6 M1106.9 796.6 L1107.6 867.0 M1109.7 865.6 L1109.8 825.7 M1109.8 825.7 L1110.3 815.4 L1110.7 811.4 L1111.2 808.4 L1111.6 806.0 L1112.1 804.0 L1112.5 802.3 L1113.0 800.8 L1113.4 799.5 L1113.9 798.3 L1114.3 797.3 L1114.8 796.4 L1115.2 795.6 L1115.7 795.0 L1116.1 794.4 L1116.6 793.9 L1117.0 793.6 L1117.5 793.3 L1117.9 793.1 L1118.4 793.0 L1118.8 792.9 L1121.2 792.4 M1121.3 793.4 L1122.0 863.2 M1124.1 861.8 L1124.2 822.2 M1124.2 822.2 L1124.6 812.1 L1125.1 808.0 L1125.5 805.1 L1125.9 802.7 L1126.3 800.7 L1126.8 799.0 L1127.2 797.5 L1127.6 796.2 L1128.0 795.1 L1128.5 794.1 L1128.9 793.2 L1129.3 792.4 L1129.8 791.8 L1130.2 791.2 L1130.6 790.8 L1131.0 790.4 L1131.5 790.1 L1131.9 789.9 L1132.3 789.8 L1132.7 789.7 L1135.0 789.2 M1135.1 790.2 L1135.8 859.9 M1137.9 857.2 L1138.0 816.9 M1138.0 816.9 L1138.4 806.6 L1138.9 802.6 L1139.3 799.6 L1139.7 797.2 L1140.1 795.2 L1140.6 793.5 L1141.0 792.0 L1141.4 790.7 L1141.8 789.6 L1142.3 788.6 L1142.7 787.7 L1143.1 786.9 L1143.6 786.2 L1144.0 785.7 L1144.4 785.2 L1144.8 784.8 L1145.3 784.6 L1145.7 784.3 L1146.1 784.2 L1146.5 784.2 L1148.8 783.2 M1148.9 784.2 L1149.6 854.9 M1151.7 853.4 L1151.8 813.3 M1151.8 813.3 L1152.2 803.0 L1152.6 798.9 L1153.0 795.9 L1153.4 793.5 L1153.9 791.5 L1154.3 789.8 L1154.7 788.3 L1155.1 786.9 L1155.5 785.8 L1155.9 784.8 L1156.3 783.9 L1156.7 783.1 L1157.1 782.4 L1157.6 781.9 L1158.0 781.4 L1158.4 781.0 L1158.8 780.7 L1159.2 780.5 L1159.6 780.4 L1160.0 780.4 L1162.2 779.8 M1162.3 780.8 L1163.0 851.1 M1165.1 850.0 L1165.2 810.3 M1165.2 810.3 L1165.6 800.1 L1166.0 796.0 L1166.5 793.1 L1166.9 790.7 L1167.3 788.7 L1167.7 787.0 L1168.1 785.5 L1168.6 784.2 L1169.0 783.0 L1169.4 782.0 L1169.8 781.1 L1170.2 780.3 L1170.6 779.7 L1171.1 779.1 L1171.5 778.7 L1171.9 778.3 L1172.3 778.0 L1172.7 777.8 L1173.2 777.7 L1173.6 777.6 L1175.8 777.2 M1175.9 778.2 L1176.6 847.7 M1178.7 845.9 L1178.8 806.2 M1178.8 806.2 L1179.2 796.1 L1179.6 792.1 L1180.1 789.2 L1180.5 786.8 L1180.9 784.8 L1181.3 783.1 L1181.8 781.6 L1182.2 780.3 L1182.6 779.2 L1183.0 778.2 L1183.5 777.3 L1183.9 776.6 L1184.3 775.9 L1184.7 775.3 L1185.1 774.9 L1185.6 774.5 L1186.0 774.2 L1186.4 774.0 L1186.8 773.9 L1187.3 773.9 L1189.5 773.2 M1189.6 774.2 L1190.3 843.6 M1192.4 842.4 L1192.5 803.2 M1192.5 803.2 L1192.9 793.1 L1193.3 789.1 L1193.7 786.2 L1194.1 783.8 L1194.5 781.8 L1194.9 780.2 L1195.3 778.7 L1195.8 777.4 L1196.2 776.3 L1196.6 775.3 L1197.0 774.4 L1197.4 773.6 L1197.8 773.0 L1198.2 772.4 L1198.6 772.0 L1199.0 771.6 L1199.4 771.3 L1199.8 771.1 L1200.2 771.0 L1200.6 770.9 L1202.8 770.5 M1202.9 771.5 L1203.6 840.1 M1205.7 838.3 L1205.8 799.1 M1205.8 799.1 L1206.2 789.1 L1206.6 785.2 L1207.0 782.3 L1207.4 779.9 L1207.8 778.0 L1208.2 776.3 L1208.6 774.8 L1209.0 773.5 L1209.4 772.4 L1209.8 771.4 L1210.1 770.6 L1210.5 769.8 L1210.9 769.2 L1211.3 768.6 L1211.7 768.2 L1212.1 767.8 L1212.5 767.5 L1212.9 767.3 L1213.3 767.2 L1213.7 767.1 L1215.8 766.5 M1215.9 767.5 L1216.6 836.0 M1218.7 834.5 L1218.8 795.6 M1218.8 795.6 L1219.2 785.7 L1219.6 781.7 L1220.0 778.8 L1220.4 776.5 L1220.8 774.5 L1221.2 772.8 L1221.6 771.4 L1222.0 770.1 L1222.4 769.0 L1222.8 768.0 L1223.1 767.1 L1223.5 766.4 L1223.9 765.7 L1224.3 765.2 L1224.7 764.7 L1225.1 764.4 L1225.5 764.1 L1225.9 763.9 L1226.3 763.8 L1226.7 763.7 L1228.8 763.2 M1228.9 764.2 L1229.6 832.2 M1231.7 830.7 L1231.8 792.0 M1231.8 792.0 L1232.2 782.1 L1232.6 778.2 L1233.0 775.3 L1233.4 773.0 L1233.8 771.1 L1234.2 769.4 L1234.6 768.0 L1235.0 766.7 L1235.4 765.6 L1235.8 764.6 L1236.1 763.7 L1236.5 763.0 L1236.9 762.4 L1237.3 761.8 L1237.7 761.4 L1238.1 761.0 L1238.5 760.7 L1238.9 760.5 L1239.3 760.4 L1239.7 760.3 L1241.8 759.8 M1241.9 760.8 L1242.6 828.4 M1244.7 827.2 L1244.8 789.0 M1244.8 789.0 L1245.2 779.2 L1245.6 775.3 L1246.0 772.5 L1246.4 770.2 L1246.8 768.3 L1247.2 766.6 L1247.6 765.2 L1248.0 763.9 L1248.4 762.8 L1248.8 761.8 L1249.1 761.0 L1249.5 760.2 L1249.9 759.6 L1250.3 759.1 L1250.7 758.6 L1251.1 758.3 L1251.5 758.0 L1251.9 757.8 L1252.3 757.7 L1252.7 757.6 L1254.8 757.2 M1254.9 758.2 L1255.6 824.9 M1257.7 823.4 L1257.8 785.4 M1257.8 785.4 L1258.2 775.7 L1258.6 771.9 L1259.0 769.1 L1259.4 766.8 L1259.8 764.9 L1260.2 763.2 L1260.6 761.8 L1261.0 760.6 L1261.4 759.5 L1261.8 758.5 L1262.1 757.7 L1262.5 756.9 L1262.9 756.3 L1263.3 755.8 L1263.7 755.3 L1264.1 755.0 L1264.5 754.7 L1264.9 754.5 L1265.3 754.4 L1265.7 754.3 L1267.8 753.8 M1267.9 754.8 L1268.6 821.1 M1270.7 819.3 L1270.8 781.4 M1270.8 781.4 L1271.2 771.7 L1271.6 767.9 L1271.9 765.1 L1272.3 762.8 L1272.7 760.9 L1273.1 759.3 L1273.5 757.9 L1273.9 756.6 L1274.2 755.5 L1274.6 754.6 L1275.0 753.8 L1275.4 753.0 L1275.8 752.4 L1276.2 751.9 L1276.5 751.4 L1276.9 751.1 L1277.3 750.8 L1277.7 750.6 L1278.1 750.5 L1278.5 750.4 L1280.5 749.8 M1280.6 750.8 L1281.3 816.6 M1283.4 815.1 L1283.5 777.7 M1283.5 777.7 L1283.9 768.1 L1284.2 764.3 L1284.6 761.5 L1285.0 759.3 L1285.3 757.4 L1285.7 755.8 L1286.1 754.4 L1286.4 753.2 L1286.8 752.1 L1287.2 751.1 L1287.5 750.3 L1287.9 749.6 L1288.3 749.0 L1288.6 748.4 L1289.0 748.0 L1289.4 747.6 L1289.7 747.4 L1290.1 747.2 L1290.5 747.1 L1290.8 747.0 L1292.8 746.5 M1292.9 747.5 L1293.6 812.3 M1295.7 811.0 L1295.8 774.2 M1295.8 774.2 L1296.2 764.8 L1296.5 761.1 L1296.9 758.3 L1297.3 756.1 L1297.7 754.3 L1298.0 752.7 L1298.4 751.3 L1298.8 750.1 L1299.1 749.0 L1299.5 748.1 L1299.9 747.3 L1300.3 746.6 L1300.6 745.9 L1301.0 745.4 L1301.4 745.0 L1301.7 744.6 L1302.1 744.4 L1302.5 744.2 L1302.8 744.1 L1303.2 744.0 L1305.2 743.6 M1305.3 744.6 L1306.0 808.3 M1308.1 806.9 L1308.2 770.8 M1308.2 770.8 L1308.6 761.5 L1309.0 757.8 L1309.3 755.1 L1309.7 753.0 L1310.1 751.1 L1310.5 749.6 L1310.9 748.2 L1311.2 747.0 L1311.6 746.0 L1312.0 745.1 L1312.4 744.3 L1312.7 743.6 L1313.1 743.0 L1313.5 742.5 L1313.9 742.0 L1314.3 741.7 L1314.6 741.4 L1315.0 741.2 L1315.4 741.1 L1315.8 741.1 L1317.8 740.6 M1317.9 741.6 L1318.6 804.2 M1320.7 802.9 L1320.8 767.3 M1320.8 767.3 L1321.2 758.2 L1321.5 754.6 L1321.9 752.0 L1322.2 749.8 L1322.6 748.0 L1322.9 746.5 L1323.3 745.2 L1323.6 744.0 L1324.0 743.0 L1324.3 742.1 L1324.7 741.3 L1325.1 740.6 L1325.4 740.0 L1325.8 739.5 L1326.1 739.1 L1326.5 738.7 L1326.8 738.5 L1327.2 738.3 L1327.5 738.2 L1327.9 738.2 L1329.8 737.7 M1329.9 738.7 L1330.6 800.1 M1332.7 798.8 L1332.8 763.9 M1332.8 763.9 L1333.2 754.9 L1333.5 751.4 L1333.9 748.8 L1334.2 746.7 L1334.6 744.9 L1334.9 743.4 L1335.3 742.1 L1335.6 740.9 L1336.0 739.9 L1336.3 739.1 L1336.7 738.3 L1337.1 737.6 L1337.4 737.0 L1337.8 736.5 L1338.1 736.1 L1338.5 735.8 L1338.8 735.5 L1339.2 735.4 L1339.5 735.3 L1339.9 735.2 L1341.8 734.8 M1341.9 735.8 L1342.6 796.0 M1344.7 794.7 L1344.8 760.4 M1344.8 760.4 L1345.1 751.6 L1345.5 748.2 L1345.8 745.6 L1346.2 743.5 L1346.5 741.8 L1346.9 740.3 L1347.2 739.0 L1347.5 737.9 L1347.9 736.9 L1348.2 736.0 L1348.6 735.3 L1348.9 734.6 L1349.3 734.1 L1349.6 733.6 L1349.9 733.2 L1350.3 732.8 L1350.6 732.6 L1351.0 732.4 L1351.3 732.3 L1351.7 732.3 L1353.5 731.8 M1353.6 732.8 L1354.3 792.0 M1356.4 790.7 L1356.5 757.0 M1356.5 757.0 L1356.9 748.3 L1357.2 744.9 L1357.6 742.4 L1357.9 740.4 L1358.3 738.7 L1358.6 737.2 L1359.0 736.0 L1359.3 734.9 L1359.7 733.9 L1360.0 733.0 L1360.4 732.3 L1360.8 731.7 L1361.1 731.1 L1361.5 730.6 L1361.8 730.2 L1362.2 729.9 L1362.5 729.7 L1362.9 729.5 L1363.2 729.4 L1363.6 729.3 L1365.5 728.9 M1365.6 729.9 L1366.3 787.5 M1368.4 786.2 L1368.5 753.3 M1368.5 753.3 L1368.8 744.9 L1369.2 741.6 L1369.5 739.1 L1369.8 737.2 L1370.1 735.5 L1370.5 734.1 L1370.8 732.9 L1371.1 731.8 L1371.4 730.8 L1371.8 730.0 L1372.1 729.3 L1372.4 728.7 L1372.8 728.1 L1373.1 727.6 L1373.4 727.3 L1373.7 726.9 L1374.1 726.7 L1374.4 726.5 L1374.7 726.4 L1375.0 726.4 L1376.8 725.9 M1376.9 726.9 L1377.6 783.3 M1379.7 782.0 L1379.8 749.8 M1379.8 749.8 L1380.1 741.6 L1380.5 738.3 L1380.8 735.9 L1381.2 734.0 L1381.5 732.4 L1381.9 731.0 L1382.2 729.8 L1382.5 728.7 L1382.9 727.8 L1383.2 727.0 L1383.6 726.3 L1383.9 725.7 L1384.3 725.1 L1384.6 724.7 L1384.9 724.3 L1385.3 724.0 L1385.6 723.8 L1386.0 723.6 L1386.3 723.5 L1386.7 723.5 L1388.5 723.0 M1388.6 724.0 L1389.3 778.8 M1391.4 777.5 L1391.5 746.2 M1391.5 746.2 L1391.8 738.2 L1392.2 735.0 L1392.5 732.7 L1392.9 730.8 L1393.2 729.2 L1393.6 727.9 L1393.9 726.7 L1394.2 725.7 L1394.6 724.8 L1394.9 724.0 L1395.3 723.3 L1395.6 722.7 L1396.0 722.2 L1396.3 721.7 L1396.6 721.3 L1397.0 721.1 L1397.3 720.8 L1397.7 720.7 L1398.0 720.6 L1398.4 720.5 L1400.2 720.1 M1400.3 721.1 L1401.1 779.3 M1402.9 778.2 L1403.2 742.3 M1403.2 742.3 L1403.5 734.6 L1403.9 731.5 L1404.2 729.3 L1404.6 727.5 L1404.9 726.0 L1405.2 724.7 L1405.6 723.5 L1405.9 722.5 L1406.3 721.7 L1406.6 720.9 L1407.0 720.2 L1407.3 719.7 L1407.6 719.2 L1408.0 718.7 L1408.3 718.4 L1408.7 718.1 L1409.0 717.9 L1409.3 717.7 L1409.7 717.6 L1410.0 717.6 L1411.8 717.1 M1411.9 718.1 L1412.8 779.5 M1414.3 778.5 L1414.8 738.5 M1414.8 738.5 L1415.2 731.0 L1415.5 728.1 L1415.8 725.9 L1416.1 724.2 L1416.4 722.7 L1416.8 721.5 L1417.1 720.4 L1417.4 719.4 L1417.7 718.6 L1418.0 717.8 L1418.3 717.2 L1418.7 716.6 L1419.0 716.2 L1419.3 715.8 L1419.6 715.4 L1419.9 715.1 L1420.2 714.9 L1420.6 714.8 L1420.9 714.7 L1421.2 714.7 L1422.9 714.2 M1423.0 715.2 L1423.9 779.1 M1425.1 777.9 L1425.9 733.6 M1425.9 733.6 L1426.2 726.5 L1426.5 723.6 L1426.9 721.5 L1427.2 719.8 L1427.5 718.4 L1427.8 717.2 L1428.2 716.2 L1428.5 715.2 L1428.8 714.4 L1429.1 713.7 L1429.5 713.1 L1429.8 712.6 L1430.1 712.1 L1430.4 711.7 L1430.7 711.4 L1431.1 711.1 L1431.4 710.9 L1431.7 710.8 L1432.0 710.7 L1432.4 710.7 L1434.1 710.0 M1434.2 711.0 L1435.2 777.1 M1436.0 776.3 L1437.1 729.0 M1437.1 729.0 L1437.4 722.2 L1437.7 719.4 L1438.0 717.4 L1438.3 715.8 L1438.6 714.5 L1438.9 713.3 L1439.2 712.3 L1439.6 711.4 L1439.9 710.7 L1440.2 710.0 L1440.5 709.4 L1440.8 708.9 L1441.1 708.4 L1441.4 708.1 L1441.7 707.7 L1442.0 707.5 L1442.3 707.3 L1442.6 707.1 L1442.9 707.1 L1443.2 707.0 L1444.9 706.5 M1445.0 707.5 L1446.1 774.8 M1446.6 774.3 L1447.9 724.6 M1447.9 724.6 L1448.2 718.1 L1448.6 715.6 L1448.9 713.7 L1449.3 712.1 L1449.6 710.9 L1450.0 709.8 L1450.3 708.8 L1450.6 708.0 L1451.0 707.2 L1451.3 706.6 L1451.7 706.0 L1452.0 705.5 L1452.4 705.1 L1452.7 704.8 L1453.0 704.5 L1453.4 704.2 L1453.7 704.0 L1454.1 703.9 L1454.4 703.8 L1454.8 703.8 L1456.6 703.3 M1456.7 704.3 L1457.9 772.0 M1458.1 771.6 L1459.6 719.6 M1459.6 719.6 L1459.9 713.4 L1460.2 711.0 L1460.6 709.2 L1460.9 707.7 L1461.2 706.5 L1461.5 705.5 L1461.8 704.6 L1462.2 703.8 L1462.5 703.1 L1462.8 702.5 L1463.1 701.9 L1463.4 701.5 L1463.7 701.1 L1464.1 700.7 L1464.4 700.5 L1464.7 700.2 L1465.0 700.1 L1465.3 699.9 L1465.7 699.9 L1466.0 699.8 L1467.7 699.2 M1467.8 700.2 L1469.0 768.7 M1468.9 768.5 L1470.7 714.5 M1470.7 714.5 L1471.0 708.6 L1471.3 706.3 L1471.7 704.6 L1472.0 703.2 L1472.3 702.0 L1472.6 701.0 L1472.9 700.2 L1473.3 699.4 L1473.6 698.8 L1473.9 698.2 L1474.2 697.7 L1474.5 697.2 L1474.8 696.8 L1475.2 696.5 L1475.5 696.2 L1475.8 696.0 L1476.1 695.9 L1476.4 695.7 L1476.8 695.7 L1477.1 695.7 L1478.8 695.0 M1478.9 696.0 L1480.2 764.9 M1480.6 764.9 L1481.8 708.7 M1481.8 708.7 L1482.1 703.1 L1482.4 700.9 L1482.8 699.3 L1483.1 698.0 L1483.4 696.9 L1483.7 695.9 L1484.0 695.1 L1484.4 694.4 L1484.7 693.7 L1485.0 693.2 L1485.3 692.7 L1485.6 692.3 L1485.9 691.9 L1486.3 691.6 L1486.6 691.3 L1486.9 691.1 L1487.2 691.0 L1487.5 690.9 L1487.9 690.8 L1488.2 690.8 L1489.9 690.0 M1490.0 691.0 L1491.3 757.0 M1490.4 690.0 L1491.7 757.0 M1491.7 757.0 L1491.6 690.0 M1502.0 683.5 L1503.3 745.3 M1502.4 682.5 L1503.7 745.3 M1503.7 745.3 L1503.6 682.5 M1514.0 674.3 L1515.3 732.0 M1514.4 673.3 L1515.7 732.0 M1515.7 732.0 L1515.6 673.3 M1526.0 658.5 L1527.3 715.3 M1526.4 657.5 L1527.7 715.3 M1527.7 715.3 L1527.6 657.5 M1538.4 635.2 L1539.7 687.8 M1538.8 634.2 L1540.1 687.8 M1540.1 687.8 L1540.0 634.2 M1551.2 606.8 L1552.5 655.3 M1551.6 605.8 L1552.9 655.3 M1552.9 655.3 L1552.8 605.8" stroke-width="5.6"/>
<path d="M290.1 1055.9 l0 0 M307.6 1052.4 l0 0 M306.3 1019.8 l0 0 M324.7 1050.1 l0 0 M323.4 1013.5 l0 0 M342.6 1047.3 l0 0 M341.3 1006.3 l0 0 M359.9 1045.5 l0 0 M358.6 989.9 l0 0 M378.3 1043.1 l0 0 M377.0 979.9 l0 0 M396.5 1039.6 l0 0 M395.2 968.2 l0 0 M415.2 1036.1 l0 0 M413.9 958.2 l0 0 M433.9 1033.8 l0 0 M432.6 948.4 l0 0 M452.5 1031.0 l0 0 M451.2 940.9 l0 0 M471.2 1028.6 l0 0 M469.9 931.6 l0 0 M490.3 1025.6 l0 0 M489.0 925.5 l0 0 M509.2 1023.3 l0 0 M507.9 918.1 l0 0 M527.9 1020.9 l0 0 M526.6 911.1 l0 0 M546.3 1018.6 l0 0 M545.0 905.9 l0 0 M565.5 1016.3 l0 0 M564.2 900.2 l0 0 M583.4 1014.2 l0 0 M582.1 894.9 l0 0 M601.8 1012.1 l0 0 M600.5 890.9 l0 0 M620.0 1010.0 l0 0 M618.7 886.4 l0 0 M637.8 1007.9 l0 0 M636.5 881.1 l0 0 M656.5 1005.8 l0 0 M655.2 877.6 l0 0 M674.4 1003.7 l0 0 M673.1 873.1 l0 0 M692.0 1001.6 l0 0 M690.7 868.3 l0 0 M709.8 999.5 l0 0 M708.5 865.1 l0 0 M727.7 996.3 l0 0 M726.4 860.3 l0 0 M745.0 993.6 l0 0 M743.7 857.1 l0 0 M762.6 991.0 l0 0 M761.3 852.3 l0 0 M780.0 988.8 l0 0 M778.7 848.3 l0 0 M796.8 986.2 l0 0 M795.5 843.7 l0 0 M813.8 983.5 l0 0 M812.5 841.1 l0 0 M830.6 980.8 l0 0 M829.3 836.3 l0 0 M846.9 978.7 l0 0 M845.6 833.2 l0 0 M863.3 976.2 l0 0 M862.0 828.3 l0 0 M879.6 972.8 l0 0 M878.3 824.3 l0 0 M895.6 969.5 l0 0 M894.3 820.9 l0 0 M911.6 967.8 l0 0 M910.3 816.9 l0 0 M927.6 964.5 l0 0 M926.3 812.3 l0 0 M943.6 962.2 l0 0 M942.3 809.3 l0 0 M959.6 957.8 l0 0 M958.3 804.9 l0 0 M975.0 955.5 l0 0 M973.7 800.6 l0 0 M990.3 952.2 l0 0 M989.0 796.6 l0 0 M1005.6 948.8 l0 0 M1004.3 791.6 l0 0 M1021.0 945.5 l0 0 M1019.7 787.6 l0 0 M1035.6 942.2 l0 0 M1034.3 782.3 l0 0 M1050.6 939.5 l0 0 M1049.3 777.3 l0 0 M1065.0 936.2 l0 0 M1063.7 773.3 l0 0 M1079.6 932.2 l0 0 M1078.3 768.9 l0 0 M1094.0 928.8 l0 0 M1092.7 763.3 l0 0 M1108.6 925.5 l0 0 M1107.3 757.3 l0 0 M1123.0 921.2 l0 0 M1121.7 752.6 l0 0 M1136.8 917.8 l0 0 M1135.5 746.6 l0 0 M1150.6 913.6 l0 0 M1149.3 739.9 l0 0 M1164.0 909.5 l0 0 M1162.7 734.9 l0 0 M1177.6 905.3 l0 0 M1176.3 728.3 l0 0 M1191.3 901.2 l0 0 M1190.0 721.6 l0 0 M1204.6 897.0 l0 0 M1203.3 716.6 l0 0 M1217.6 892.8 l0 0 M1216.3 709.9 l0 0 M1230.6 888.7 l0 0 M1229.3 702.3 l0 0 M1243.6 884.5 l0 0 M1242.3 696.6 l0 0 M1256.6 880.4 l0 0 M1255.3 689.9 l0 0 M1269.6 876.2 l0 0 M1268.3 681.6 l0 0 M1282.3 871.2 l0 0 M1281.0 674.9 l0 0 M1294.6 866.2 l0 0 M1293.3 667.6 l0 0 M1307.0 861.2 l0 0 M1305.7 659.9 l0 0 M1319.6 856.2 l0 0 M1318.3 651.6 l0 0 M1331.6 851.2 l0 0 M1330.3 643.9 l0 0 M1343.6 846.2 l0 0 M1342.3 635.6 l0 0 M1355.3 841.2 l0 0 M1354.0 625.6 l0 0 M1367.3 835.5 l0 0 M1366.0 616.6 l0 0 M1378.6 830.2 l0 0 M1377.3 606.6 l0 0 M1390.3 824.5 l0 0 M1389.0 596.6 l0 0 M1402.0 817.8 l0 0 M1400.7 585.6 l0 0 M1413.6 811.2 l0 0 M1412.3 573.9 l0 0 M1424.7 804.5 l0 0 M1423.4 561.6 l0 0 M1435.9 796.6 l0 0 M1434.6 547.5 l0 0 M1446.7 788.7 l0 0 M1445.4 531.6 l0 0 M1458.4 780.8 l0 0 M1457.1 510.6 l0 0 M1469.5 772.8 l0 0 M1468.2 492.0 l0 0 M1480.6 764.9 l0 0 M1479.3 471.6 l0 0 M1491.7 757.0 l0 0 M1490.4 447.6 l0 0 M1503.7 745.3 l0 0 M1515.7 732.0 l0 0 M1527.7 715.3 l0 0 M1540.1 687.8 l0 0 M1552.9 655.3 l0 0" stroke-width="4.8"/>
<path d="M396.5 1039.6 L396.2 1036.8 M415.2 1036.1 L415.0 1030.0 M433.9 1033.8 L433.9 1023.8 M452.5 1031.0 L452.7 1017.2 M471.2 1028.6 L471.6 1010.6 M490.3 1025.6 L490.8 1003.9 M509.2 1023.3 L509.9 997.9 M527.9 1020.9 L528.8 991.7 M546.3 1018.6 L547.4 985.4 M565.5 1016.3 L566.7 978.8 M583.4 1014.2 L584.8 971.8 M601.8 1012.1 L603.2 968.5 M620.0 1010.0 L621.4 965.2 M637.8 1007.9 L639.2 962.0 M656.5 1005.8 L657.9 958.7 M674.4 1003.7 L675.8 955.5 M692.0 1001.6 L693.4 952.2 M709.8 999.5 L711.2 949.2 M727.7 996.3 L729.1 945.7 M745.0 993.6 L746.4 942.1 M762.6 991.0 L764.0 938.6 M780.0 988.8 L781.4 935.9 M796.8 986.2 L798.2 932.5 M813.8 983.5 L815.2 929.2 M830.6 980.8 L832.0 925.8 M846.9 978.7 L848.3 922.7 M863.3 976.2 L864.7 919.6 M879.6 972.8 L881.0 916.0 M895.6 969.5 L897.0 912.5 M911.6 967.8 L913.0 909.8 M927.6 964.5 L929.0 906.3 M943.6 962.2 L945.0 903.3 M959.6 957.8 L961.0 899.2 M975.0 955.5 L976.4 896.2 M990.3 952.2 L991.7 892.7 M1005.6 948.8 L1007.0 888.9 M1021.0 945.5 L1022.4 885.6 M1035.6 942.2 L1037.0 881.9 M1050.6 939.5 L1052.0 879.0 M1065.0 936.2 L1066.4 875.8 M1079.6 932.2 L1081.0 872.1 M1094.0 928.8 L1095.4 868.8 M1108.6 925.5 L1110.0 865.6 M1123.0 921.2 L1124.4 861.8 M1136.8 917.8 L1138.2 857.2 M1150.6 913.6 L1152.0 853.4 M1164.0 909.5 L1165.4 850.0 M1177.6 905.3 L1179.0 845.9 M1191.3 901.2 L1192.7 842.4 M1204.6 897.0 L1206.0 838.3 M1217.6 892.8 L1219.0 834.5 M1230.6 888.7 L1232.0 830.7 M1243.6 884.5 L1245.0 827.2 M1256.6 880.4 L1258.0 823.4 M1269.6 876.2 L1271.0 819.3 M1282.3 871.2 L1283.7 815.1 M1294.6 866.2 L1296.0 811.0 M1307.0 861.2 L1308.4 806.9 M1319.6 856.2 L1321.0 802.9 M1331.6 851.2 L1333.0 798.8 M1343.6 846.2 L1345.0 794.7 M1355.3 841.2 L1356.7 790.7 M1367.3 835.5 L1368.7 786.2 M1378.6 830.2 L1380.0 782.0 M1390.3 824.5 L1391.7 777.5 M1402.0 817.8 L1403.2 778.2 M1413.6 811.2 L1414.6 778.5 M1424.7 804.5 L1425.4 777.9 M1435.9 796.6 L1436.3 776.3 M1446.7 788.7 L1446.9 774.3 M1458.4 780.8 L1458.4 771.6 M1469.5 772.8 L1469.2 768.5" stroke-width="3.6"/>
<path d="M1490.4 690.0 L1491.4 689.5 L1492.4 688.9 L1493.4 688.3 L1494.4 687.7 L1495.4 687.1 L1496.4 686.5 L1497.4 685.9 L1498.4 685.2 L1499.4 684.5 L1500.4 683.9 L1501.4 683.2 L1502.4 682.5 M1502.4 682.5 L1503.4 681.8 L1504.4 681.1 L1505.4 680.4 L1506.4 679.8 L1507.4 679.0 L1508.4 678.3 L1509.4 677.6 L1510.4 676.8 L1511.4 676.0 L1512.4 675.1 L1513.4 674.2 L1514.4 673.3 M1514.4 673.3 L1515.4 672.3 L1516.4 671.2 L1517.4 670.1 L1518.4 668.9 L1519.4 667.6 L1520.4 666.3 L1521.4 664.9 L1522.4 663.5 L1523.4 662.0 L1524.4 660.5 L1525.4 659.0 L1526.4 657.5 M1526.4 657.5 L1527.4 655.9 L1528.5 654.1 L1529.5 652.3 L1530.5 650.5 L1531.6 648.6 L1532.6 646.6 L1533.6 644.6 L1534.7 642.6 L1535.7 640.5 L1536.7 638.4 L1537.8 636.3 L1538.8 634.2 M1538.8 634.2 L1539.9 632.1 L1540.9 630.0 L1542.0 627.9 L1543.1 625.9 L1544.1 623.8 L1545.2 621.7 L1546.3 619.4 L1547.3 617.1 L1548.4 614.5 L1549.5 611.8 L1550.5 608.9 L1551.6 605.8 M1551.6 605.8 L1552.1 604.2 L1552.6 602.5 L1553.1 600.6 L1553.6 598.6 L1554.1 596.5 L1554.5 594.4 L1555.0 592.1 L1555.5 589.8 L1556.0 587.4 L1556.5 584.9 L1557.0 582.5 L1557.5 580.0" stroke-width="4.8"/>
<path d="M1502.4 130 L1502.4 417.5" stroke-width="1.7"/><path d="M1514.4 130 L1514.4 386.0" stroke-width="2.8"/><path d="M1526.4 130 L1526.4 344.0" stroke-width="2.6"/><path d="M1538.8 130 L1538.8 285.5" stroke-width="2.2"/><path d="M1551.6 130 L1551.6 204.5" stroke-width="2.5"/>
</g>
<rect x="225.5" y="144.5" width="1395.0" height="924.0" fill="none" stroke="#000" stroke-width="1.11"/>
<path d="M220.1 1064.50 L225 1064.50 M220.1 942.50 L225 942.50 M220.1 821.50 L225 821.50 M220.1 699.50 L225 699.50 M220.1 578.50 L225 578.50 M220.1 456.50 L225 456.50 M220.1 334.50 L225 334.50 M220.1 213.50 L225 213.50 M254.50 1068.5 L254.50 1073.4 M506.50 1068.5 L506.50 1073.4 M758.50 1068.5 L758.50 1073.4 M1010.50 1068.5 L1010.50 1073.4 M1262.50 1068.5 L1262.50 1073.4 M1514.50 1068.5 L1514.50 1073.4" stroke="#000" stroke-width="1.11" fill="none"/>
<text x="215.3" y="1069.10" text-anchor="end" class="tk" textLength="26.5" lengthAdjust="spacingAndGlyphs">100</text><text x="215.3" y="947.10" text-anchor="end" class="tk" textLength="26.5" lengthAdjust="spacingAndGlyphs">200</text><text x="215.3" y="826.10" text-anchor="end" class="tk" textLength="26.5" lengthAdjust="spacingAndGlyphs">300</text><text x="215.3" y="704.10" text-anchor="end" class="tk" textLength="26.5" lengthAdjust="spacingAndGlyphs">400</text><text x="215.3" y="583.10" text-anchor="end" class="tk" textLength="26.5" lengthAdjust="spacingAndGlyphs">500</text><text x="215.3" y="461.10" text-anchor="end" class="tk" textLength="26.5" lengthAdjust="spacingAndGlyphs">600</text><text x="215.3" y="339.10" text-anchor="end" class="tk" textLength="26.5" lengthAdjust="spacingAndGlyphs">700</text><text x="215.3" y="218.10" text-anchor="end" class="tk" textLength="26.5" lengthAdjust="spacingAndGlyphs">800</text><text x="254.50" y="1088.9" text-anchor="middle" class="tk" textLength="39.75" lengthAdjust="spacingAndGlyphs">85.00</text><text x="506.50" y="1088.9" text-anchor="middle" class="tk" textLength="39.75" lengthAdjust="spacingAndGlyphs">85.05</text><text x="758.50" y="1088.9" text-anchor="middle" class="tk" textLength="39.75" lengthAdjust="spacingAndGlyphs">85.10</text><text x="1010.50" y="1088.9" text-anchor="middle" class="tk" textLength="39.75" lengthAdjust="spacingAndGlyphs">85.15</text><text x="1262.50" y="1088.9" text-anchor="middle" class="tk" textLength="39.75" lengthAdjust="spacingAndGlyphs">85.20</text><text x="1514.50" y="1088.9" text-anchor="middle" class="tk" textLength="39.75" lengthAdjust="spacingAndGlyphs">85.25</text>
<text x="922.3" y="1108.2" text-anchor="middle" class="lab" textLength="100.9" lengthAdjust="spacingAndGlyphs">star_age (Myr)</text>
<text transform="translate(179.3 606.6) rotate(-90)" x="0" y="0" text-anchor="middle" class="lab" textLength="116.5" lengthAdjust="spacingAndGlyphs">O1 period (days)</text>
<rect x="236" y="154.9" width="306.2" height="91.2" rx="3.5" ry="3.5" fill="#fff" fill-opacity="0.8" stroke="#cccccc" stroke-width="1.3"/>
<path d="M243 171 L286 171" stroke="#000" stroke-width="2.1"/>
<circle cx="265.6" cy="171.1" r="2.2" fill="#000"/>
<circle cx="265.5" cy="216.3" r="6.8" fill="#fcfcc4" stroke="#fefeae" stroke-width="1.4"/>
<text x="303.8" y="178.9" class="lg" textLength="160.9" lengthAdjust="spacingAndGlyphs">m4.90_z0.0070</text>
<text x="303.6" y="210" class="lg" textLength="232.1" lengthAdjust="spacingAndGlyphs">intersection w/ P,L,T,R</text>
<text x="303.6" y="233.1" class="lg" textLength="158.1" lengthAdjust="spacingAndGlyphs">loosely defined</text>
</svg>
</body></html>
